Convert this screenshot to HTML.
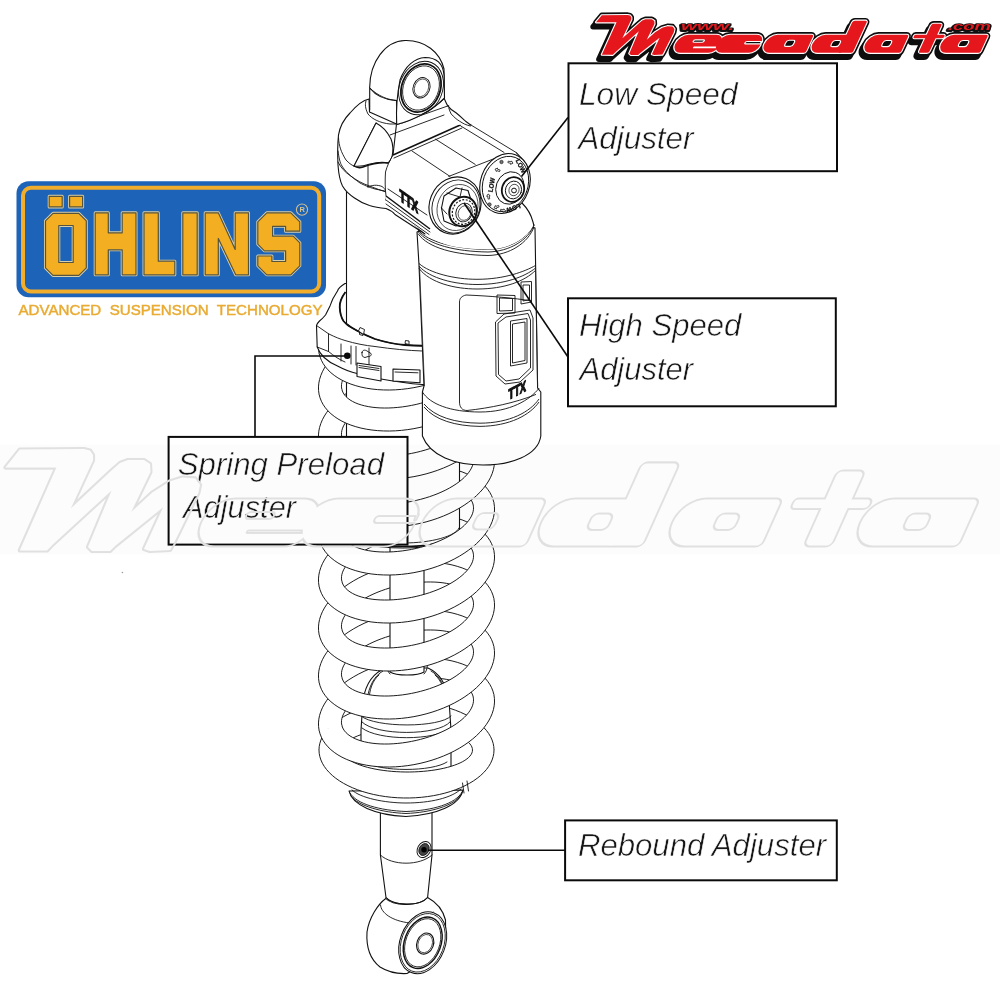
<!DOCTYPE html>
<html><head><meta charset="utf-8"><style>
html,body{margin:0;padding:0;background:#fff;width:1000px;height:1000px;overflow:hidden}
svg{display:block;will-change:transform}
</style></head><body>
<svg width="1000" height="1000" viewBox="0 0 1000 1000">
<rect width="1000" height="1000" fill="#fff"/>

<defs>
<clipPath id="cb0"><rect x="250" y="255.5" width="320" height="80" transform="rotate(-11.5 406.5 335.5)"/></clipPath>
<clipPath id="cf0"><rect x="250" y="335.2" width="320" height="90" transform="rotate(-11.5 406.5 335.5)"/></clipPath>
<clipPath id="cb1"><rect x="250" y="296.5" width="320" height="80" transform="rotate(-11.5 406.5 376.5)"/></clipPath>
<clipPath id="cf1"><rect x="250" y="376.2" width="320" height="90" transform="rotate(-11.5 406.5 376.5)"/></clipPath>
<clipPath id="cb2"><rect x="250" y="344.5" width="320" height="80" transform="rotate(-11.5 406.5 424.5)"/></clipPath>
<clipPath id="cf2"><rect x="250" y="424.2" width="320" height="90" transform="rotate(-11.5 406.5 424.5)"/></clipPath>
<clipPath id="cb3"><rect x="250" y="392.5" width="320" height="80" transform="rotate(-11.5 406.5 472.5)"/></clipPath>
<clipPath id="cf3"><rect x="250" y="472.2" width="320" height="90" transform="rotate(-11.5 406.5 472.5)"/></clipPath>
<clipPath id="cb4"><rect x="250" y="440.5" width="320" height="80" transform="rotate(-11.5 406.5 520.5)"/></clipPath>
<clipPath id="cf4"><rect x="250" y="520.2" width="320" height="90" transform="rotate(-11.5 406.5 520.5)"/></clipPath>
<clipPath id="cb5"><rect x="250" y="488.5" width="320" height="80" transform="rotate(-11.5 406.5 568.5)"/></clipPath>
<clipPath id="cf5"><rect x="250" y="568.2" width="320" height="90" transform="rotate(-11.5 406.5 568.5)"/></clipPath>
<clipPath id="cb6"><rect x="250" y="536.5" width="320" height="80" transform="rotate(-11.5 406.5 616.5)"/></clipPath>
<clipPath id="cf6"><rect x="250" y="616.2" width="320" height="90" transform="rotate(-11.5 406.5 616.5)"/></clipPath>
<clipPath id="cb7"><rect x="250" y="584.5" width="320" height="80" transform="rotate(-11.5 406.5 664.5)"/></clipPath>
<clipPath id="cf7"><rect x="250" y="664.2" width="320" height="90" transform="rotate(-11.5 406.5 664.5)"/></clipPath>
<clipPath id="cb8"><rect x="250" y="632.5" width="320" height="80" transform="rotate(-11.5 406.5 712.5)"/></clipPath>
<clipPath id="cf8"><rect x="250" y="712.2" width="320" height="90" transform="rotate(-11.5 406.5 712.5)"/></clipPath>
<clipPath id="cb9"><rect x="250" y="670.0" width="320" height="80" transform="rotate(0 406.5 750.0)"/></clipPath>
<clipPath id="cf9"><rect x="250" y="749.7" width="320" height="90" transform="rotate(0 406.5 750.0)"/></clipPath>
</defs>
<path fill="#fff" stroke="#111" stroke-width="1.1" stroke-linejoin="round" d="M380.4,805 L380.4,855 L386,897.5 C393,905.5 420,907.5 427.6,897.5 L432,855 L432,805 Z"/>
<path fill="none" stroke="#111" stroke-width="0.9" stroke-linejoin="round" stroke-linecap="round" d="M380.4,855 C392,866 420,866 432,855"/>
<path fill="#fff" stroke="#111" stroke-width="1.1" stroke-linejoin="round" d="M349,791 C352,805 375,815 406,816.5 C437,815 460,805 463,790 Z"/>
<path fill="none" stroke="#111" stroke-width="0.9" stroke-linejoin="round" stroke-linecap="round" d="M350,793 C356,804 380,810.5 406,811.5 C432,810.5 456,804 462,792"/>
<path fill="none" stroke="#111" stroke-width="0.9" stroke-linejoin="round" stroke-linecap="round" d="M351,796 C358,806 382,812.5 406,813.5 C430,812.5 454,806 461,795"/>
<path fill="none" stroke="#111" stroke-width="0.9" stroke-linejoin="round" stroke-linecap="round" d="M352,790 C360,798 385,803 406,803 C430,803 452,798 461,789"/>
<path clip-path="url(#cb9)" fill="#fff" fill-rule="evenodd" stroke="#111" stroke-width="0.95" d="M494.00,750.00 L493.79,753.35 L493.15,756.68 L492.09,759.98 L490.61,763.23 L488.72,766.42 L486.44,769.52 L483.76,772.53 L480.70,775.44 L477.29,778.21 L473.53,780.85 L469.44,783.34 L465.05,785.67 L460.37,787.82 L455.43,789.79 L450.25,791.57 L444.86,793.14 L439.28,794.50 L433.54,795.65 L427.67,796.57 L421.69,797.27 L415.65,797.74 L409.55,797.97 L403.45,797.97 L397.35,797.74 L391.31,797.27 L385.33,796.57 L379.46,795.65 L373.72,794.50 L368.14,793.14 L362.75,791.57 L357.57,789.79 L352.63,787.82 L347.95,785.67 L343.56,783.34 L339.47,780.85 L335.71,778.21 L332.30,775.44 L329.24,772.53 L326.56,769.52 L324.28,766.42 L322.39,763.23 L320.91,759.98 L319.85,756.68 L319.21,753.35 L319.00,750.00 L319.21,746.65 L319.85,743.32 L320.91,740.02 L322.39,736.77 L324.28,733.58 L326.56,730.48 L329.24,727.47 L332.30,724.56 L335.71,721.79 L339.47,719.15 L343.56,716.66 L347.95,714.33 L352.63,712.18 L357.57,710.21 L362.75,708.43 L368.14,706.86 L373.72,705.50 L379.46,704.35 L385.33,703.43 L391.31,702.73 L397.35,702.26 L403.45,702.03 L409.55,702.03 L415.65,702.26 L421.69,702.73 L427.67,703.43 L433.54,704.35 L439.28,705.50 L444.86,706.86 L450.25,708.43 L455.43,710.21 L460.37,712.18 L465.05,714.33 L469.44,716.66 L473.53,719.15 L477.29,721.79 L480.70,724.56 L483.76,727.47 L486.44,730.48 L488.72,733.58 L490.61,736.77 L492.09,740.02 L493.15,743.32 L493.79,746.65Z M472.50,750.00 L472.34,751.53 L471.87,753.06 L471.08,754.57 L469.98,756.06 L468.58,757.52 L466.88,758.95 L464.89,760.33 L462.62,761.66 L460.09,762.93 L457.29,764.14 L454.26,765.28 L450.99,766.35 L447.52,767.34 L443.85,768.24 L440.00,769.05 L435.99,769.77 L431.85,770.40 L427.59,770.92 L423.22,771.35 L418.79,771.67 L414.29,771.88 L409.77,771.99 L405.23,771.99 L400.71,771.88 L396.21,771.67 L391.78,771.35 L387.41,770.92 L383.15,770.40 L379.01,769.77 L375.00,769.05 L371.15,768.24 L367.48,767.34 L364.01,766.35 L360.74,765.28 L357.71,764.14 L354.91,762.93 L352.38,761.66 L350.11,760.33 L348.12,758.95 L346.42,757.52 L345.02,756.06 L343.92,754.57 L343.13,753.06 L342.66,751.53 L342.50,750.00 L342.66,748.47 L343.13,746.94 L343.92,745.43 L345.02,743.94 L346.42,742.48 L348.12,741.05 L350.11,739.67 L352.38,738.34 L354.91,737.07 L357.71,735.86 L360.74,734.72 L364.01,733.65 L367.48,732.66 L371.15,731.76 L375.00,730.95 L379.01,730.23 L383.15,729.60 L387.41,729.08 L391.78,728.65 L396.21,728.33 L400.71,728.12 L405.23,728.01 L409.77,728.01 L414.29,728.12 L418.79,728.33 L423.22,728.65 L427.59,729.08 L431.85,729.60 L435.99,730.23 L440.00,730.95 L443.85,731.76 L447.52,732.66 L450.99,733.65 L454.26,734.72 L457.29,735.86 L460.09,737.07 L462.62,738.34 L464.89,739.67 L466.88,741.05 L468.58,742.48 L469.98,743.94 L471.08,745.43 L471.87,746.94 L472.34,748.47Z"/>
<path clip-path="url(#cb8)" fill="#fff" fill-rule="evenodd" stroke="#111" stroke-width="0.95" d="M493.91,694.72 L494.43,698.36 L494.52,702.06 L494.18,705.82 L493.41,709.61 L492.22,713.42 L490.62,717.22 L488.60,721.00 L486.18,724.73 L483.38,728.41 L480.20,732.01 L476.66,735.51 L472.78,738.91 L468.58,742.17 L464.07,745.29 L459.29,748.25 L454.24,751.03 L448.97,753.63 L443.48,756.03 L437.82,758.21 L432.01,760.17 L426.07,761.90 L420.03,763.39 L413.93,764.63 L407.79,765.62 L401.65,766.35 L395.53,766.82 L389.46,767.02 L383.48,766.95 L377.61,766.62 L371.88,766.03 L366.32,765.18 L360.95,764.07 L355.80,762.70 L350.91,761.10 L346.28,759.25 L341.95,757.18 L337.93,754.90 L334.25,752.40 L330.91,749.71 L327.95,746.84 L325.37,743.80 L323.18,740.61 L321.40,737.28 L320.04,733.84 L319.09,730.28 L318.57,726.64 L318.48,722.94 L318.82,719.18 L319.59,715.39 L320.78,711.58 L322.38,707.78 L324.40,704.00 L326.82,700.27 L329.62,696.59 L332.80,692.99 L336.34,689.49 L340.22,686.09 L344.42,682.83 L348.93,679.71 L353.71,676.75 L358.76,673.97 L364.03,671.37 L369.52,668.97 L375.18,666.79 L380.99,664.83 L386.93,663.10 L392.97,661.61 L399.07,660.37 L405.21,659.38 L411.35,658.65 L417.47,658.18 L423.54,657.98 L429.52,658.05 L435.39,658.38 L441.12,658.97 L446.68,659.82 L452.05,660.93 L457.20,662.30 L462.09,663.90 L466.72,665.75 L471.05,667.82 L475.07,670.10 L478.75,672.60 L482.09,675.29 L485.05,678.16 L487.63,681.20 L489.82,684.39 L491.60,687.72 L492.96,691.16Z M473.23,697.03 L473.52,699.15 L473.48,701.33 L473.12,703.56 L472.44,705.82 L471.44,708.11 L470.14,710.41 L468.52,712.72 L466.61,715.01 L464.42,717.29 L461.94,719.54 L459.20,721.74 L456.21,723.89 L452.98,725.98 L449.53,728.00 L445.88,729.94 L442.03,731.78 L438.02,733.52 L433.86,735.15 L429.58,736.66 L425.18,738.05 L420.70,739.31 L416.15,740.43 L411.56,741.40 L406.96,742.23 L402.35,742.90 L397.77,743.42 L393.24,743.78 L388.78,743.99 L384.40,744.03 L380.14,743.91 L376.02,743.63 L372.05,743.19 L368.24,742.59 L364.64,741.84 L361.24,740.94 L358.06,739.90 L355.13,738.71 L352.45,737.39 L350.04,735.94 L347.91,734.37 L346.07,732.68 L344.53,730.89 L343.29,729.00 L342.37,727.03 L341.77,724.97 L341.48,722.85 L341.52,720.67 L341.88,718.44 L342.56,716.18 L343.56,713.89 L344.86,711.59 L346.48,709.28 L348.39,706.99 L350.58,704.71 L353.06,702.46 L355.80,700.26 L358.79,698.11 L362.02,696.02 L365.47,694.00 L369.12,692.06 L372.97,690.22 L376.98,688.48 L381.14,686.85 L385.42,685.34 L389.82,683.95 L394.30,682.69 L398.85,681.57 L403.44,680.60 L408.04,679.77 L412.65,679.10 L417.23,678.58 L421.76,678.22 L426.22,678.01 L430.60,677.97 L434.86,678.09 L438.98,678.37 L442.95,678.81 L446.76,679.41 L450.36,680.16 L453.76,681.06 L456.94,682.10 L459.87,683.29 L462.55,684.61 L464.96,686.06 L467.09,687.63 L468.93,689.32 L470.47,691.11 L471.71,693.00 L472.63,694.97Z"/>
<path clip-path="url(#cb7)" fill="#fff" fill-rule="evenodd" stroke="#111" stroke-width="0.95" d="M493.91,646.72 L494.43,650.36 L494.52,654.06 L494.18,657.82 L493.41,661.61 L492.22,665.42 L490.62,669.22 L488.60,673.00 L486.18,676.73 L483.38,680.41 L480.20,684.01 L476.66,687.51 L472.78,690.91 L468.58,694.17 L464.07,697.29 L459.29,700.25 L454.24,703.03 L448.97,705.63 L443.48,708.03 L437.82,710.21 L432.01,712.17 L426.07,713.90 L420.03,715.39 L413.93,716.63 L407.79,717.62 L401.65,718.35 L395.53,718.82 L389.46,719.02 L383.48,718.95 L377.61,718.62 L371.88,718.03 L366.32,717.18 L360.95,716.07 L355.80,714.70 L350.91,713.10 L346.28,711.25 L341.95,709.18 L337.93,706.90 L334.25,704.40 L330.91,701.71 L327.95,698.84 L325.37,695.80 L323.18,692.61 L321.40,689.28 L320.04,685.84 L319.09,682.28 L318.57,678.64 L318.48,674.94 L318.82,671.18 L319.59,667.39 L320.78,663.58 L322.38,659.78 L324.40,656.00 L326.82,652.27 L329.62,648.59 L332.80,644.99 L336.34,641.49 L340.22,638.09 L344.42,634.83 L348.93,631.71 L353.71,628.75 L358.76,625.97 L364.03,623.37 L369.52,620.97 L375.18,618.79 L380.99,616.83 L386.93,615.10 L392.97,613.61 L399.07,612.37 L405.21,611.38 L411.35,610.65 L417.47,610.18 L423.54,609.98 L429.52,610.05 L435.39,610.38 L441.12,610.97 L446.68,611.82 L452.05,612.93 L457.20,614.30 L462.09,615.90 L466.72,617.75 L471.05,619.82 L475.07,622.10 L478.75,624.60 L482.09,627.29 L485.05,630.16 L487.63,633.20 L489.82,636.39 L491.60,639.72 L492.96,643.16Z M473.23,649.03 L473.52,651.15 L473.48,653.33 L473.12,655.56 L472.44,657.82 L471.44,660.11 L470.14,662.41 L468.52,664.72 L466.61,667.01 L464.42,669.29 L461.94,671.54 L459.20,673.74 L456.21,675.89 L452.98,677.98 L449.53,680.00 L445.88,681.94 L442.03,683.78 L438.02,685.52 L433.86,687.15 L429.58,688.66 L425.18,690.05 L420.70,691.31 L416.15,692.43 L411.56,693.40 L406.96,694.23 L402.35,694.90 L397.77,695.42 L393.24,695.78 L388.78,695.99 L384.40,696.03 L380.14,695.91 L376.02,695.63 L372.05,695.19 L368.24,694.59 L364.64,693.84 L361.24,692.94 L358.06,691.90 L355.13,690.71 L352.45,689.39 L350.04,687.94 L347.91,686.37 L346.07,684.68 L344.53,682.89 L343.29,681.00 L342.37,679.03 L341.77,676.97 L341.48,674.85 L341.52,672.67 L341.88,670.44 L342.56,668.18 L343.56,665.89 L344.86,663.59 L346.48,661.28 L348.39,658.99 L350.58,656.71 L353.06,654.46 L355.80,652.26 L358.79,650.11 L362.02,648.02 L365.47,646.00 L369.12,644.06 L372.97,642.22 L376.98,640.48 L381.14,638.85 L385.42,637.34 L389.82,635.95 L394.30,634.69 L398.85,633.57 L403.44,632.60 L408.04,631.77 L412.65,631.10 L417.23,630.58 L421.76,630.22 L426.22,630.01 L430.60,629.97 L434.86,630.09 L438.98,630.37 L442.95,630.81 L446.76,631.41 L450.36,632.16 L453.76,633.06 L456.94,634.10 L459.87,635.29 L462.55,636.61 L464.96,638.06 L467.09,639.63 L468.93,641.32 L470.47,643.11 L471.71,645.00 L472.63,646.97Z"/>
<path clip-path="url(#cb6)" fill="#fff" fill-rule="evenodd" stroke="#111" stroke-width="0.95" d="M493.91,598.72 L494.43,602.36 L494.52,606.06 L494.18,609.82 L493.41,613.61 L492.22,617.42 L490.62,621.22 L488.60,625.00 L486.18,628.73 L483.38,632.41 L480.20,636.01 L476.66,639.51 L472.78,642.91 L468.58,646.17 L464.07,649.29 L459.29,652.25 L454.24,655.03 L448.97,657.63 L443.48,660.03 L437.82,662.21 L432.01,664.17 L426.07,665.90 L420.03,667.39 L413.93,668.63 L407.79,669.62 L401.65,670.35 L395.53,670.82 L389.46,671.02 L383.48,670.95 L377.61,670.62 L371.88,670.03 L366.32,669.18 L360.95,668.07 L355.80,666.70 L350.91,665.10 L346.28,663.25 L341.95,661.18 L337.93,658.90 L334.25,656.40 L330.91,653.71 L327.95,650.84 L325.37,647.80 L323.18,644.61 L321.40,641.28 L320.04,637.84 L319.09,634.28 L318.57,630.64 L318.48,626.94 L318.82,623.18 L319.59,619.39 L320.78,615.58 L322.38,611.78 L324.40,608.00 L326.82,604.27 L329.62,600.59 L332.80,596.99 L336.34,593.49 L340.22,590.09 L344.42,586.83 L348.93,583.71 L353.71,580.75 L358.76,577.97 L364.03,575.37 L369.52,572.97 L375.18,570.79 L380.99,568.83 L386.93,567.10 L392.97,565.61 L399.07,564.37 L405.21,563.38 L411.35,562.65 L417.47,562.18 L423.54,561.98 L429.52,562.05 L435.39,562.38 L441.12,562.97 L446.68,563.82 L452.05,564.93 L457.20,566.30 L462.09,567.90 L466.72,569.75 L471.05,571.82 L475.07,574.10 L478.75,576.60 L482.09,579.29 L485.05,582.16 L487.63,585.20 L489.82,588.39 L491.60,591.72 L492.96,595.16Z M473.23,601.03 L473.52,603.15 L473.48,605.33 L473.12,607.56 L472.44,609.82 L471.44,612.11 L470.14,614.41 L468.52,616.72 L466.61,619.01 L464.42,621.29 L461.94,623.54 L459.20,625.74 L456.21,627.89 L452.98,629.98 L449.53,632.00 L445.88,633.94 L442.03,635.78 L438.02,637.52 L433.86,639.15 L429.58,640.66 L425.18,642.05 L420.70,643.31 L416.15,644.43 L411.56,645.40 L406.96,646.23 L402.35,646.90 L397.77,647.42 L393.24,647.78 L388.78,647.99 L384.40,648.03 L380.14,647.91 L376.02,647.63 L372.05,647.19 L368.24,646.59 L364.64,645.84 L361.24,644.94 L358.06,643.90 L355.13,642.71 L352.45,641.39 L350.04,639.94 L347.91,638.37 L346.07,636.68 L344.53,634.89 L343.29,633.00 L342.37,631.03 L341.77,628.97 L341.48,626.85 L341.52,624.67 L341.88,622.44 L342.56,620.18 L343.56,617.89 L344.86,615.59 L346.48,613.28 L348.39,610.99 L350.58,608.71 L353.06,606.46 L355.80,604.26 L358.79,602.11 L362.02,600.02 L365.47,598.00 L369.12,596.06 L372.97,594.22 L376.98,592.48 L381.14,590.85 L385.42,589.34 L389.82,587.95 L394.30,586.69 L398.85,585.57 L403.44,584.60 L408.04,583.77 L412.65,583.10 L417.23,582.58 L421.76,582.22 L426.22,582.01 L430.60,581.97 L434.86,582.09 L438.98,582.37 L442.95,582.81 L446.76,583.41 L450.36,584.16 L453.76,585.06 L456.94,586.10 L459.87,587.29 L462.55,588.61 L464.96,590.06 L467.09,591.63 L468.93,593.32 L470.47,595.11 L471.71,597.00 L472.63,598.97Z"/>
<path clip-path="url(#cb5)" fill="#fff" fill-rule="evenodd" stroke="#111" stroke-width="0.95" d="M493.91,550.72 L494.43,554.36 L494.52,558.06 L494.18,561.82 L493.41,565.61 L492.22,569.42 L490.62,573.22 L488.60,577.00 L486.18,580.73 L483.38,584.41 L480.20,588.01 L476.66,591.51 L472.78,594.91 L468.58,598.17 L464.07,601.29 L459.29,604.25 L454.24,607.03 L448.97,609.63 L443.48,612.03 L437.82,614.21 L432.01,616.17 L426.07,617.90 L420.03,619.39 L413.93,620.63 L407.79,621.62 L401.65,622.35 L395.53,622.82 L389.46,623.02 L383.48,622.95 L377.61,622.62 L371.88,622.03 L366.32,621.18 L360.95,620.07 L355.80,618.70 L350.91,617.10 L346.28,615.25 L341.95,613.18 L337.93,610.90 L334.25,608.40 L330.91,605.71 L327.95,602.84 L325.37,599.80 L323.18,596.61 L321.40,593.28 L320.04,589.84 L319.09,586.28 L318.57,582.64 L318.48,578.94 L318.82,575.18 L319.59,571.39 L320.78,567.58 L322.38,563.78 L324.40,560.00 L326.82,556.27 L329.62,552.59 L332.80,548.99 L336.34,545.49 L340.22,542.09 L344.42,538.83 L348.93,535.71 L353.71,532.75 L358.76,529.97 L364.03,527.37 L369.52,524.97 L375.18,522.79 L380.99,520.83 L386.93,519.10 L392.97,517.61 L399.07,516.37 L405.21,515.38 L411.35,514.65 L417.47,514.18 L423.54,513.98 L429.52,514.05 L435.39,514.38 L441.12,514.97 L446.68,515.82 L452.05,516.93 L457.20,518.30 L462.09,519.90 L466.72,521.75 L471.05,523.82 L475.07,526.10 L478.75,528.60 L482.09,531.29 L485.05,534.16 L487.63,537.20 L489.82,540.39 L491.60,543.72 L492.96,547.16Z M473.23,553.03 L473.52,555.15 L473.48,557.33 L473.12,559.56 L472.44,561.82 L471.44,564.11 L470.14,566.41 L468.52,568.72 L466.61,571.01 L464.42,573.29 L461.94,575.54 L459.20,577.74 L456.21,579.89 L452.98,581.98 L449.53,584.00 L445.88,585.94 L442.03,587.78 L438.02,589.52 L433.86,591.15 L429.58,592.66 L425.18,594.05 L420.70,595.31 L416.15,596.43 L411.56,597.40 L406.96,598.23 L402.35,598.90 L397.77,599.42 L393.24,599.78 L388.78,599.99 L384.40,600.03 L380.14,599.91 L376.02,599.63 L372.05,599.19 L368.24,598.59 L364.64,597.84 L361.24,596.94 L358.06,595.90 L355.13,594.71 L352.45,593.39 L350.04,591.94 L347.91,590.37 L346.07,588.68 L344.53,586.89 L343.29,585.00 L342.37,583.03 L341.77,580.97 L341.48,578.85 L341.52,576.67 L341.88,574.44 L342.56,572.18 L343.56,569.89 L344.86,567.59 L346.48,565.28 L348.39,562.99 L350.58,560.71 L353.06,558.46 L355.80,556.26 L358.79,554.11 L362.02,552.02 L365.47,550.00 L369.12,548.06 L372.97,546.22 L376.98,544.48 L381.14,542.85 L385.42,541.34 L389.82,539.95 L394.30,538.69 L398.85,537.57 L403.44,536.60 L408.04,535.77 L412.65,535.10 L417.23,534.58 L421.76,534.22 L426.22,534.01 L430.60,533.97 L434.86,534.09 L438.98,534.37 L442.95,534.81 L446.76,535.41 L450.36,536.16 L453.76,537.06 L456.94,538.10 L459.87,539.29 L462.55,540.61 L464.96,542.06 L467.09,543.63 L468.93,545.32 L470.47,547.11 L471.71,549.00 L472.63,550.97Z"/>
<path clip-path="url(#cb4)" fill="#fff" fill-rule="evenodd" stroke="#111" stroke-width="0.95" d="M493.91,502.72 L494.43,506.36 L494.52,510.06 L494.18,513.82 L493.41,517.61 L492.22,521.42 L490.62,525.22 L488.60,529.00 L486.18,532.73 L483.38,536.41 L480.20,540.01 L476.66,543.51 L472.78,546.91 L468.58,550.17 L464.07,553.29 L459.29,556.25 L454.24,559.03 L448.97,561.63 L443.48,564.03 L437.82,566.21 L432.01,568.17 L426.07,569.90 L420.03,571.39 L413.93,572.63 L407.79,573.62 L401.65,574.35 L395.53,574.82 L389.46,575.02 L383.48,574.95 L377.61,574.62 L371.88,574.03 L366.32,573.18 L360.95,572.07 L355.80,570.70 L350.91,569.10 L346.28,567.25 L341.95,565.18 L337.93,562.90 L334.25,560.40 L330.91,557.71 L327.95,554.84 L325.37,551.80 L323.18,548.61 L321.40,545.28 L320.04,541.84 L319.09,538.28 L318.57,534.64 L318.48,530.94 L318.82,527.18 L319.59,523.39 L320.78,519.58 L322.38,515.78 L324.40,512.00 L326.82,508.27 L329.62,504.59 L332.80,500.99 L336.34,497.49 L340.22,494.09 L344.42,490.83 L348.93,487.71 L353.71,484.75 L358.76,481.97 L364.03,479.37 L369.52,476.97 L375.18,474.79 L380.99,472.83 L386.93,471.10 L392.97,469.61 L399.07,468.37 L405.21,467.38 L411.35,466.65 L417.47,466.18 L423.54,465.98 L429.52,466.05 L435.39,466.38 L441.12,466.97 L446.68,467.82 L452.05,468.93 L457.20,470.30 L462.09,471.90 L466.72,473.75 L471.05,475.82 L475.07,478.10 L478.75,480.60 L482.09,483.29 L485.05,486.16 L487.63,489.20 L489.82,492.39 L491.60,495.72 L492.96,499.16Z M473.23,505.03 L473.52,507.15 L473.48,509.33 L473.12,511.56 L472.44,513.82 L471.44,516.11 L470.14,518.41 L468.52,520.72 L466.61,523.01 L464.42,525.29 L461.94,527.54 L459.20,529.74 L456.21,531.89 L452.98,533.98 L449.53,536.00 L445.88,537.94 L442.03,539.78 L438.02,541.52 L433.86,543.15 L429.58,544.66 L425.18,546.05 L420.70,547.31 L416.15,548.43 L411.56,549.40 L406.96,550.23 L402.35,550.90 L397.77,551.42 L393.24,551.78 L388.78,551.99 L384.40,552.03 L380.14,551.91 L376.02,551.63 L372.05,551.19 L368.24,550.59 L364.64,549.84 L361.24,548.94 L358.06,547.90 L355.13,546.71 L352.45,545.39 L350.04,543.94 L347.91,542.37 L346.07,540.68 L344.53,538.89 L343.29,537.00 L342.37,535.03 L341.77,532.97 L341.48,530.85 L341.52,528.67 L341.88,526.44 L342.56,524.18 L343.56,521.89 L344.86,519.59 L346.48,517.28 L348.39,514.99 L350.58,512.71 L353.06,510.46 L355.80,508.26 L358.79,506.11 L362.02,504.02 L365.47,502.00 L369.12,500.06 L372.97,498.22 L376.98,496.48 L381.14,494.85 L385.42,493.34 L389.82,491.95 L394.30,490.69 L398.85,489.57 L403.44,488.60 L408.04,487.77 L412.65,487.10 L417.23,486.58 L421.76,486.22 L426.22,486.01 L430.60,485.97 L434.86,486.09 L438.98,486.37 L442.95,486.81 L446.76,487.41 L450.36,488.16 L453.76,489.06 L456.94,490.10 L459.87,491.29 L462.55,492.61 L464.96,494.06 L467.09,495.63 L468.93,497.32 L470.47,499.11 L471.71,501.00 L472.63,502.97Z"/>
<path clip-path="url(#cb3)" fill="#fff" fill-rule="evenodd" stroke="#111" stroke-width="0.95" d="M493.91,454.72 L494.43,458.36 L494.52,462.06 L494.18,465.82 L493.41,469.61 L492.22,473.42 L490.62,477.22 L488.60,481.00 L486.18,484.73 L483.38,488.41 L480.20,492.01 L476.66,495.51 L472.78,498.91 L468.58,502.17 L464.07,505.29 L459.29,508.25 L454.24,511.03 L448.97,513.63 L443.48,516.03 L437.82,518.21 L432.01,520.17 L426.07,521.90 L420.03,523.39 L413.93,524.63 L407.79,525.62 L401.65,526.35 L395.53,526.82 L389.46,527.02 L383.48,526.95 L377.61,526.62 L371.88,526.03 L366.32,525.18 L360.95,524.07 L355.80,522.70 L350.91,521.10 L346.28,519.25 L341.95,517.18 L337.93,514.90 L334.25,512.40 L330.91,509.71 L327.95,506.84 L325.37,503.80 L323.18,500.61 L321.40,497.28 L320.04,493.84 L319.09,490.28 L318.57,486.64 L318.48,482.94 L318.82,479.18 L319.59,475.39 L320.78,471.58 L322.38,467.78 L324.40,464.00 L326.82,460.27 L329.62,456.59 L332.80,452.99 L336.34,449.49 L340.22,446.09 L344.42,442.83 L348.93,439.71 L353.71,436.75 L358.76,433.97 L364.03,431.37 L369.52,428.97 L375.18,426.79 L380.99,424.83 L386.93,423.10 L392.97,421.61 L399.07,420.37 L405.21,419.38 L411.35,418.65 L417.47,418.18 L423.54,417.98 L429.52,418.05 L435.39,418.38 L441.12,418.97 L446.68,419.82 L452.05,420.93 L457.20,422.30 L462.09,423.90 L466.72,425.75 L471.05,427.82 L475.07,430.10 L478.75,432.60 L482.09,435.29 L485.05,438.16 L487.63,441.20 L489.82,444.39 L491.60,447.72 L492.96,451.16Z M473.23,457.03 L473.52,459.15 L473.48,461.33 L473.12,463.56 L472.44,465.82 L471.44,468.11 L470.14,470.41 L468.52,472.72 L466.61,475.01 L464.42,477.29 L461.94,479.54 L459.20,481.74 L456.21,483.89 L452.98,485.98 L449.53,488.00 L445.88,489.94 L442.03,491.78 L438.02,493.52 L433.86,495.15 L429.58,496.66 L425.18,498.05 L420.70,499.31 L416.15,500.43 L411.56,501.40 L406.96,502.23 L402.35,502.90 L397.77,503.42 L393.24,503.78 L388.78,503.99 L384.40,504.03 L380.14,503.91 L376.02,503.63 L372.05,503.19 L368.24,502.59 L364.64,501.84 L361.24,500.94 L358.06,499.90 L355.13,498.71 L352.45,497.39 L350.04,495.94 L347.91,494.37 L346.07,492.68 L344.53,490.89 L343.29,489.00 L342.37,487.03 L341.77,484.97 L341.48,482.85 L341.52,480.67 L341.88,478.44 L342.56,476.18 L343.56,473.89 L344.86,471.59 L346.48,469.28 L348.39,466.99 L350.58,464.71 L353.06,462.46 L355.80,460.26 L358.79,458.11 L362.02,456.02 L365.47,454.00 L369.12,452.06 L372.97,450.22 L376.98,448.48 L381.14,446.85 L385.42,445.34 L389.82,443.95 L394.30,442.69 L398.85,441.57 L403.44,440.60 L408.04,439.77 L412.65,439.10 L417.23,438.58 L421.76,438.22 L426.22,438.01 L430.60,437.97 L434.86,438.09 L438.98,438.37 L442.95,438.81 L446.76,439.41 L450.36,440.16 L453.76,441.06 L456.94,442.10 L459.87,443.29 L462.55,444.61 L464.96,446.06 L467.09,447.63 L468.93,449.32 L470.47,451.11 L471.71,453.00 L472.63,454.97Z"/>
<path clip-path="url(#cb2)" fill="#fff" fill-rule="evenodd" stroke="#111" stroke-width="0.95" d="M493.91,406.72 L494.43,410.36 L494.52,414.06 L494.18,417.82 L493.41,421.61 L492.22,425.42 L490.62,429.22 L488.60,433.00 L486.18,436.73 L483.38,440.41 L480.20,444.01 L476.66,447.51 L472.78,450.91 L468.58,454.17 L464.07,457.29 L459.29,460.25 L454.24,463.03 L448.97,465.63 L443.48,468.03 L437.82,470.21 L432.01,472.17 L426.07,473.90 L420.03,475.39 L413.93,476.63 L407.79,477.62 L401.65,478.35 L395.53,478.82 L389.46,479.02 L383.48,478.95 L377.61,478.62 L371.88,478.03 L366.32,477.18 L360.95,476.07 L355.80,474.70 L350.91,473.10 L346.28,471.25 L341.95,469.18 L337.93,466.90 L334.25,464.40 L330.91,461.71 L327.95,458.84 L325.37,455.80 L323.18,452.61 L321.40,449.28 L320.04,445.84 L319.09,442.28 L318.57,438.64 L318.48,434.94 L318.82,431.18 L319.59,427.39 L320.78,423.58 L322.38,419.78 L324.40,416.00 L326.82,412.27 L329.62,408.59 L332.80,404.99 L336.34,401.49 L340.22,398.09 L344.42,394.83 L348.93,391.71 L353.71,388.75 L358.76,385.97 L364.03,383.37 L369.52,380.97 L375.18,378.79 L380.99,376.83 L386.93,375.10 L392.97,373.61 L399.07,372.37 L405.21,371.38 L411.35,370.65 L417.47,370.18 L423.54,369.98 L429.52,370.05 L435.39,370.38 L441.12,370.97 L446.68,371.82 L452.05,372.93 L457.20,374.30 L462.09,375.90 L466.72,377.75 L471.05,379.82 L475.07,382.10 L478.75,384.60 L482.09,387.29 L485.05,390.16 L487.63,393.20 L489.82,396.39 L491.60,399.72 L492.96,403.16Z M473.23,409.03 L473.52,411.15 L473.48,413.33 L473.12,415.56 L472.44,417.82 L471.44,420.11 L470.14,422.41 L468.52,424.72 L466.61,427.01 L464.42,429.29 L461.94,431.54 L459.20,433.74 L456.21,435.89 L452.98,437.98 L449.53,440.00 L445.88,441.94 L442.03,443.78 L438.02,445.52 L433.86,447.15 L429.58,448.66 L425.18,450.05 L420.70,451.31 L416.15,452.43 L411.56,453.40 L406.96,454.23 L402.35,454.90 L397.77,455.42 L393.24,455.78 L388.78,455.99 L384.40,456.03 L380.14,455.91 L376.02,455.63 L372.05,455.19 L368.24,454.59 L364.64,453.84 L361.24,452.94 L358.06,451.90 L355.13,450.71 L352.45,449.39 L350.04,447.94 L347.91,446.37 L346.07,444.68 L344.53,442.89 L343.29,441.00 L342.37,439.03 L341.77,436.97 L341.48,434.85 L341.52,432.67 L341.88,430.44 L342.56,428.18 L343.56,425.89 L344.86,423.59 L346.48,421.28 L348.39,418.99 L350.58,416.71 L353.06,414.46 L355.80,412.26 L358.79,410.11 L362.02,408.02 L365.47,406.00 L369.12,404.06 L372.97,402.22 L376.98,400.48 L381.14,398.85 L385.42,397.34 L389.82,395.95 L394.30,394.69 L398.85,393.57 L403.44,392.60 L408.04,391.77 L412.65,391.10 L417.23,390.58 L421.76,390.22 L426.22,390.01 L430.60,389.97 L434.86,390.09 L438.98,390.37 L442.95,390.81 L446.76,391.41 L450.36,392.16 L453.76,393.06 L456.94,394.10 L459.87,395.29 L462.55,396.61 L464.96,398.06 L467.09,399.63 L468.93,401.32 L470.47,403.11 L471.71,405.00 L472.63,406.97Z"/>
<path clip-path="url(#cb1)" fill="#fff" fill-rule="evenodd" stroke="#111" stroke-width="0.95" d="M493.91,358.72 L494.43,362.36 L494.52,366.06 L494.18,369.82 L493.41,373.61 L492.22,377.42 L490.62,381.22 L488.60,385.00 L486.18,388.73 L483.38,392.41 L480.20,396.01 L476.66,399.51 L472.78,402.91 L468.58,406.17 L464.07,409.29 L459.29,412.25 L454.24,415.03 L448.97,417.63 L443.48,420.03 L437.82,422.21 L432.01,424.17 L426.07,425.90 L420.03,427.39 L413.93,428.63 L407.79,429.62 L401.65,430.35 L395.53,430.82 L389.46,431.02 L383.48,430.95 L377.61,430.62 L371.88,430.03 L366.32,429.18 L360.95,428.07 L355.80,426.70 L350.91,425.10 L346.28,423.25 L341.95,421.18 L337.93,418.90 L334.25,416.40 L330.91,413.71 L327.95,410.84 L325.37,407.80 L323.18,404.61 L321.40,401.28 L320.04,397.84 L319.09,394.28 L318.57,390.64 L318.48,386.94 L318.82,383.18 L319.59,379.39 L320.78,375.58 L322.38,371.78 L324.40,368.00 L326.82,364.27 L329.62,360.59 L332.80,356.99 L336.34,353.49 L340.22,350.09 L344.42,346.83 L348.93,343.71 L353.71,340.75 L358.76,337.97 L364.03,335.37 L369.52,332.97 L375.18,330.79 L380.99,328.83 L386.93,327.10 L392.97,325.61 L399.07,324.37 L405.21,323.38 L411.35,322.65 L417.47,322.18 L423.54,321.98 L429.52,322.05 L435.39,322.38 L441.12,322.97 L446.68,323.82 L452.05,324.93 L457.20,326.30 L462.09,327.90 L466.72,329.75 L471.05,331.82 L475.07,334.10 L478.75,336.60 L482.09,339.29 L485.05,342.16 L487.63,345.20 L489.82,348.39 L491.60,351.72 L492.96,355.16Z M473.23,361.03 L473.52,363.15 L473.48,365.33 L473.12,367.56 L472.44,369.82 L471.44,372.11 L470.14,374.41 L468.52,376.72 L466.61,379.01 L464.42,381.29 L461.94,383.54 L459.20,385.74 L456.21,387.89 L452.98,389.98 L449.53,392.00 L445.88,393.94 L442.03,395.78 L438.02,397.52 L433.86,399.15 L429.58,400.66 L425.18,402.05 L420.70,403.31 L416.15,404.43 L411.56,405.40 L406.96,406.23 L402.35,406.90 L397.77,407.42 L393.24,407.78 L388.78,407.99 L384.40,408.03 L380.14,407.91 L376.02,407.63 L372.05,407.19 L368.24,406.59 L364.64,405.84 L361.24,404.94 L358.06,403.90 L355.13,402.71 L352.45,401.39 L350.04,399.94 L347.91,398.37 L346.07,396.68 L344.53,394.89 L343.29,393.00 L342.37,391.03 L341.77,388.97 L341.48,386.85 L341.52,384.67 L341.88,382.44 L342.56,380.18 L343.56,377.89 L344.86,375.59 L346.48,373.28 L348.39,370.99 L350.58,368.71 L353.06,366.46 L355.80,364.26 L358.79,362.11 L362.02,360.02 L365.47,358.00 L369.12,356.06 L372.97,354.22 L376.98,352.48 L381.14,350.85 L385.42,349.34 L389.82,347.95 L394.30,346.69 L398.85,345.57 L403.44,344.60 L408.04,343.77 L412.65,343.10 L417.23,342.58 L421.76,342.22 L426.22,342.01 L430.60,341.97 L434.86,342.09 L438.98,342.37 L442.95,342.81 L446.76,343.41 L450.36,344.16 L453.76,345.06 L456.94,346.10 L459.87,347.29 L462.55,348.61 L464.96,350.06 L467.09,351.63 L468.93,353.32 L470.47,355.11 L471.71,357.00 L472.63,358.97Z"/>
<path clip-path="url(#cb0)" fill="#fff" fill-rule="evenodd" stroke="#111" stroke-width="0.95" d="M493.91,317.72 L494.43,321.36 L494.52,325.06 L494.18,328.82 L493.41,332.61 L492.22,336.42 L490.62,340.22 L488.60,344.00 L486.18,347.73 L483.38,351.41 L480.20,355.01 L476.66,358.51 L472.78,361.91 L468.58,365.17 L464.07,368.29 L459.29,371.25 L454.24,374.03 L448.97,376.63 L443.48,379.03 L437.82,381.21 L432.01,383.17 L426.07,384.90 L420.03,386.39 L413.93,387.63 L407.79,388.62 L401.65,389.35 L395.53,389.82 L389.46,390.02 L383.48,389.95 L377.61,389.62 L371.88,389.03 L366.32,388.18 L360.95,387.07 L355.80,385.70 L350.91,384.10 L346.28,382.25 L341.95,380.18 L337.93,377.90 L334.25,375.40 L330.91,372.71 L327.95,369.84 L325.37,366.80 L323.18,363.61 L321.40,360.28 L320.04,356.84 L319.09,353.28 L318.57,349.64 L318.48,345.94 L318.82,342.18 L319.59,338.39 L320.78,334.58 L322.38,330.78 L324.40,327.00 L326.82,323.27 L329.62,319.59 L332.80,315.99 L336.34,312.49 L340.22,309.09 L344.42,305.83 L348.93,302.71 L353.71,299.75 L358.76,296.97 L364.03,294.37 L369.52,291.97 L375.18,289.79 L380.99,287.83 L386.93,286.10 L392.97,284.61 L399.07,283.37 L405.21,282.38 L411.35,281.65 L417.47,281.18 L423.54,280.98 L429.52,281.05 L435.39,281.38 L441.12,281.97 L446.68,282.82 L452.05,283.93 L457.20,285.30 L462.09,286.90 L466.72,288.75 L471.05,290.82 L475.07,293.10 L478.75,295.60 L482.09,298.29 L485.05,301.16 L487.63,304.20 L489.82,307.39 L491.60,310.72 L492.96,314.16Z M473.23,320.03 L473.52,322.15 L473.48,324.33 L473.12,326.56 L472.44,328.82 L471.44,331.11 L470.14,333.41 L468.52,335.72 L466.61,338.01 L464.42,340.29 L461.94,342.54 L459.20,344.74 L456.21,346.89 L452.98,348.98 L449.53,351.00 L445.88,352.94 L442.03,354.78 L438.02,356.52 L433.86,358.15 L429.58,359.66 L425.18,361.05 L420.70,362.31 L416.15,363.43 L411.56,364.40 L406.96,365.23 L402.35,365.90 L397.77,366.42 L393.24,366.78 L388.78,366.99 L384.40,367.03 L380.14,366.91 L376.02,366.63 L372.05,366.19 L368.24,365.59 L364.64,364.84 L361.24,363.94 L358.06,362.90 L355.13,361.71 L352.45,360.39 L350.04,358.94 L347.91,357.37 L346.07,355.68 L344.53,353.89 L343.29,352.00 L342.37,350.03 L341.77,347.97 L341.48,345.85 L341.52,343.67 L341.88,341.44 L342.56,339.18 L343.56,336.89 L344.86,334.59 L346.48,332.28 L348.39,329.99 L350.58,327.71 L353.06,325.46 L355.80,323.26 L358.79,321.11 L362.02,319.02 L365.47,317.00 L369.12,315.06 L372.97,313.22 L376.98,311.48 L381.14,309.85 L385.42,308.34 L389.82,306.95 L394.30,305.69 L398.85,304.57 L403.44,303.60 L408.04,302.77 L412.65,302.10 L417.23,301.58 L421.76,301.22 L426.22,301.01 L430.60,300.97 L434.86,301.09 L438.98,301.37 L442.95,301.81 L446.76,302.41 L450.36,303.16 L453.76,304.06 L456.94,305.10 L459.87,306.29 L462.55,307.61 L464.96,309.06 L467.09,310.63 L468.93,312.32 L470.47,314.11 L471.71,316.00 L472.63,317.97Z"/>
<path fill="#fff" stroke="#111" stroke-width="1.1" stroke-linejoin="round" d="M386,668 C375,672 366,682 363,700 L361,730 L361,790 L451,790 L451,730 L449,700 C446,682 437,672 428,668 Z"/>
<path fill="none" stroke="#111" stroke-width="0.9" stroke-linejoin="round" stroke-linecap="round" d="M383,671 C374,676 369,686 367,700 M379,675 C372,681 369.5,690 369,700"/>
<path fill="none" stroke="#111" stroke-width="0.9" stroke-linejoin="round" stroke-linecap="round" d="M431,671 C440,676 445,686 447,700 M435,675 C442,681 444.5,690 445,700"/>
<path fill="none" stroke="#111" stroke-width="0.9" stroke-linejoin="round" stroke-linecap="round" d="M361,716 C375,728 440,728 451,716"/>
<path fill="none" stroke="#111" stroke-width="0.9" stroke-linejoin="round" stroke-linecap="round" d="M362,722 C376,736 438,736 450,722"/>
<path fill="none" stroke="#111" stroke-width="0.9" stroke-linejoin="round" stroke-linecap="round" d="M362,728 C378,741 436,741 450,728"/>
<path fill="none" stroke="#111" stroke-width="0.9" stroke-linejoin="round" stroke-linecap="round" d="M365,762 C380,772 432,772 447,762"/>
<path fill="none" stroke="#111" stroke-width="0.9" stroke-linejoin="round" stroke-linecap="round" d="M363,768 C380,779 432,779 449,768"/>
<path fill="#fff" stroke="#111" stroke-width="1.1" stroke-linejoin="round" d="M390,380 L390,672 C396,676 418,676 424,672 L424,380Z"/>
<path fill="none" stroke="#111" stroke-width="0.9" stroke-linejoin="round" stroke-linecap="round" d="M388,660 C386,664 386,670 390,674 M426,660 C428,664 428,670 424,674"/>
<path fill="#fff" stroke="#111" stroke-width="1.1" stroke-linejoin="round" d="M346.5,330 L346.5,533 C346.5,541 372,548 403,548 C434,548 459.5,541 459.5,533 L459.5,330 Z"/>
<path fill="none" stroke="#111" stroke-width="0.9" stroke-linejoin="round" stroke-linecap="round" d="M347,528 C350,536 375,543 403,543 C432,543 456,536 459,528"/>
<path fill="none" stroke="#111" stroke-width="1.5" d="M352,538 C362,544 380,546.5 403,546.5 C426,546.5 446,543 456,537"/>
<path clip-path="url(#cf9)" fill="#fff" fill-rule="evenodd" stroke="#111" stroke-width="0.95" d="M494.00,750.00 L493.79,753.35 L493.15,756.68 L492.09,759.98 L490.61,763.23 L488.72,766.42 L486.44,769.52 L483.76,772.53 L480.70,775.44 L477.29,778.21 L473.53,780.85 L469.44,783.34 L465.05,785.67 L460.37,787.82 L455.43,789.79 L450.25,791.57 L444.86,793.14 L439.28,794.50 L433.54,795.65 L427.67,796.57 L421.69,797.27 L415.65,797.74 L409.55,797.97 L403.45,797.97 L397.35,797.74 L391.31,797.27 L385.33,796.57 L379.46,795.65 L373.72,794.50 L368.14,793.14 L362.75,791.57 L357.57,789.79 L352.63,787.82 L347.95,785.67 L343.56,783.34 L339.47,780.85 L335.71,778.21 L332.30,775.44 L329.24,772.53 L326.56,769.52 L324.28,766.42 L322.39,763.23 L320.91,759.98 L319.85,756.68 L319.21,753.35 L319.00,750.00 L319.21,746.65 L319.85,743.32 L320.91,740.02 L322.39,736.77 L324.28,733.58 L326.56,730.48 L329.24,727.47 L332.30,724.56 L335.71,721.79 L339.47,719.15 L343.56,716.66 L347.95,714.33 L352.63,712.18 L357.57,710.21 L362.75,708.43 L368.14,706.86 L373.72,705.50 L379.46,704.35 L385.33,703.43 L391.31,702.73 L397.35,702.26 L403.45,702.03 L409.55,702.03 L415.65,702.26 L421.69,702.73 L427.67,703.43 L433.54,704.35 L439.28,705.50 L444.86,706.86 L450.25,708.43 L455.43,710.21 L460.37,712.18 L465.05,714.33 L469.44,716.66 L473.53,719.15 L477.29,721.79 L480.70,724.56 L483.76,727.47 L486.44,730.48 L488.72,733.58 L490.61,736.77 L492.09,740.02 L493.15,743.32 L493.79,746.65Z M472.50,750.00 L472.34,751.53 L471.87,753.06 L471.08,754.57 L469.98,756.06 L468.58,757.52 L466.88,758.95 L464.89,760.33 L462.62,761.66 L460.09,762.93 L457.29,764.14 L454.26,765.28 L450.99,766.35 L447.52,767.34 L443.85,768.24 L440.00,769.05 L435.99,769.77 L431.85,770.40 L427.59,770.92 L423.22,771.35 L418.79,771.67 L414.29,771.88 L409.77,771.99 L405.23,771.99 L400.71,771.88 L396.21,771.67 L391.78,771.35 L387.41,770.92 L383.15,770.40 L379.01,769.77 L375.00,769.05 L371.15,768.24 L367.48,767.34 L364.01,766.35 L360.74,765.28 L357.71,764.14 L354.91,762.93 L352.38,761.66 L350.11,760.33 L348.12,758.95 L346.42,757.52 L345.02,756.06 L343.92,754.57 L343.13,753.06 L342.66,751.53 L342.50,750.00 L342.66,748.47 L343.13,746.94 L343.92,745.43 L345.02,743.94 L346.42,742.48 L348.12,741.05 L350.11,739.67 L352.38,738.34 L354.91,737.07 L357.71,735.86 L360.74,734.72 L364.01,733.65 L367.48,732.66 L371.15,731.76 L375.00,730.95 L379.01,730.23 L383.15,729.60 L387.41,729.08 L391.78,728.65 L396.21,728.33 L400.71,728.12 L405.23,728.01 L409.77,728.01 L414.29,728.12 L418.79,728.33 L423.22,728.65 L427.59,729.08 L431.85,729.60 L435.99,730.23 L440.00,730.95 L443.85,731.76 L447.52,732.66 L450.99,733.65 L454.26,734.72 L457.29,735.86 L460.09,737.07 L462.62,738.34 L464.89,739.67 L466.88,741.05 L468.58,742.48 L469.98,743.94 L471.08,745.43 L471.87,746.94 L472.34,748.47Z"/>
<path clip-path="url(#cf8)" fill="#fff" fill-rule="evenodd" stroke="#111" stroke-width="0.95" d="M493.91,694.72 L494.43,698.36 L494.52,702.06 L494.18,705.82 L493.41,709.61 L492.22,713.42 L490.62,717.22 L488.60,721.00 L486.18,724.73 L483.38,728.41 L480.20,732.01 L476.66,735.51 L472.78,738.91 L468.58,742.17 L464.07,745.29 L459.29,748.25 L454.24,751.03 L448.97,753.63 L443.48,756.03 L437.82,758.21 L432.01,760.17 L426.07,761.90 L420.03,763.39 L413.93,764.63 L407.79,765.62 L401.65,766.35 L395.53,766.82 L389.46,767.02 L383.48,766.95 L377.61,766.62 L371.88,766.03 L366.32,765.18 L360.95,764.07 L355.80,762.70 L350.91,761.10 L346.28,759.25 L341.95,757.18 L337.93,754.90 L334.25,752.40 L330.91,749.71 L327.95,746.84 L325.37,743.80 L323.18,740.61 L321.40,737.28 L320.04,733.84 L319.09,730.28 L318.57,726.64 L318.48,722.94 L318.82,719.18 L319.59,715.39 L320.78,711.58 L322.38,707.78 L324.40,704.00 L326.82,700.27 L329.62,696.59 L332.80,692.99 L336.34,689.49 L340.22,686.09 L344.42,682.83 L348.93,679.71 L353.71,676.75 L358.76,673.97 L364.03,671.37 L369.52,668.97 L375.18,666.79 L380.99,664.83 L386.93,663.10 L392.97,661.61 L399.07,660.37 L405.21,659.38 L411.35,658.65 L417.47,658.18 L423.54,657.98 L429.52,658.05 L435.39,658.38 L441.12,658.97 L446.68,659.82 L452.05,660.93 L457.20,662.30 L462.09,663.90 L466.72,665.75 L471.05,667.82 L475.07,670.10 L478.75,672.60 L482.09,675.29 L485.05,678.16 L487.63,681.20 L489.82,684.39 L491.60,687.72 L492.96,691.16Z M473.23,697.03 L473.52,699.15 L473.48,701.33 L473.12,703.56 L472.44,705.82 L471.44,708.11 L470.14,710.41 L468.52,712.72 L466.61,715.01 L464.42,717.29 L461.94,719.54 L459.20,721.74 L456.21,723.89 L452.98,725.98 L449.53,728.00 L445.88,729.94 L442.03,731.78 L438.02,733.52 L433.86,735.15 L429.58,736.66 L425.18,738.05 L420.70,739.31 L416.15,740.43 L411.56,741.40 L406.96,742.23 L402.35,742.90 L397.77,743.42 L393.24,743.78 L388.78,743.99 L384.40,744.03 L380.14,743.91 L376.02,743.63 L372.05,743.19 L368.24,742.59 L364.64,741.84 L361.24,740.94 L358.06,739.90 L355.13,738.71 L352.45,737.39 L350.04,735.94 L347.91,734.37 L346.07,732.68 L344.53,730.89 L343.29,729.00 L342.37,727.03 L341.77,724.97 L341.48,722.85 L341.52,720.67 L341.88,718.44 L342.56,716.18 L343.56,713.89 L344.86,711.59 L346.48,709.28 L348.39,706.99 L350.58,704.71 L353.06,702.46 L355.80,700.26 L358.79,698.11 L362.02,696.02 L365.47,694.00 L369.12,692.06 L372.97,690.22 L376.98,688.48 L381.14,686.85 L385.42,685.34 L389.82,683.95 L394.30,682.69 L398.85,681.57 L403.44,680.60 L408.04,679.77 L412.65,679.10 L417.23,678.58 L421.76,678.22 L426.22,678.01 L430.60,677.97 L434.86,678.09 L438.98,678.37 L442.95,678.81 L446.76,679.41 L450.36,680.16 L453.76,681.06 L456.94,682.10 L459.87,683.29 L462.55,684.61 L464.96,686.06 L467.09,687.63 L468.93,689.32 L470.47,691.11 L471.71,693.00 L472.63,694.97Z"/>
<path clip-path="url(#cf7)" fill="#fff" fill-rule="evenodd" stroke="#111" stroke-width="0.95" d="M493.91,646.72 L494.43,650.36 L494.52,654.06 L494.18,657.82 L493.41,661.61 L492.22,665.42 L490.62,669.22 L488.60,673.00 L486.18,676.73 L483.38,680.41 L480.20,684.01 L476.66,687.51 L472.78,690.91 L468.58,694.17 L464.07,697.29 L459.29,700.25 L454.24,703.03 L448.97,705.63 L443.48,708.03 L437.82,710.21 L432.01,712.17 L426.07,713.90 L420.03,715.39 L413.93,716.63 L407.79,717.62 L401.65,718.35 L395.53,718.82 L389.46,719.02 L383.48,718.95 L377.61,718.62 L371.88,718.03 L366.32,717.18 L360.95,716.07 L355.80,714.70 L350.91,713.10 L346.28,711.25 L341.95,709.18 L337.93,706.90 L334.25,704.40 L330.91,701.71 L327.95,698.84 L325.37,695.80 L323.18,692.61 L321.40,689.28 L320.04,685.84 L319.09,682.28 L318.57,678.64 L318.48,674.94 L318.82,671.18 L319.59,667.39 L320.78,663.58 L322.38,659.78 L324.40,656.00 L326.82,652.27 L329.62,648.59 L332.80,644.99 L336.34,641.49 L340.22,638.09 L344.42,634.83 L348.93,631.71 L353.71,628.75 L358.76,625.97 L364.03,623.37 L369.52,620.97 L375.18,618.79 L380.99,616.83 L386.93,615.10 L392.97,613.61 L399.07,612.37 L405.21,611.38 L411.35,610.65 L417.47,610.18 L423.54,609.98 L429.52,610.05 L435.39,610.38 L441.12,610.97 L446.68,611.82 L452.05,612.93 L457.20,614.30 L462.09,615.90 L466.72,617.75 L471.05,619.82 L475.07,622.10 L478.75,624.60 L482.09,627.29 L485.05,630.16 L487.63,633.20 L489.82,636.39 L491.60,639.72 L492.96,643.16Z M473.23,649.03 L473.52,651.15 L473.48,653.33 L473.12,655.56 L472.44,657.82 L471.44,660.11 L470.14,662.41 L468.52,664.72 L466.61,667.01 L464.42,669.29 L461.94,671.54 L459.20,673.74 L456.21,675.89 L452.98,677.98 L449.53,680.00 L445.88,681.94 L442.03,683.78 L438.02,685.52 L433.86,687.15 L429.58,688.66 L425.18,690.05 L420.70,691.31 L416.15,692.43 L411.56,693.40 L406.96,694.23 L402.35,694.90 L397.77,695.42 L393.24,695.78 L388.78,695.99 L384.40,696.03 L380.14,695.91 L376.02,695.63 L372.05,695.19 L368.24,694.59 L364.64,693.84 L361.24,692.94 L358.06,691.90 L355.13,690.71 L352.45,689.39 L350.04,687.94 L347.91,686.37 L346.07,684.68 L344.53,682.89 L343.29,681.00 L342.37,679.03 L341.77,676.97 L341.48,674.85 L341.52,672.67 L341.88,670.44 L342.56,668.18 L343.56,665.89 L344.86,663.59 L346.48,661.28 L348.39,658.99 L350.58,656.71 L353.06,654.46 L355.80,652.26 L358.79,650.11 L362.02,648.02 L365.47,646.00 L369.12,644.06 L372.97,642.22 L376.98,640.48 L381.14,638.85 L385.42,637.34 L389.82,635.95 L394.30,634.69 L398.85,633.57 L403.44,632.60 L408.04,631.77 L412.65,631.10 L417.23,630.58 L421.76,630.22 L426.22,630.01 L430.60,629.97 L434.86,630.09 L438.98,630.37 L442.95,630.81 L446.76,631.41 L450.36,632.16 L453.76,633.06 L456.94,634.10 L459.87,635.29 L462.55,636.61 L464.96,638.06 L467.09,639.63 L468.93,641.32 L470.47,643.11 L471.71,645.00 L472.63,646.97Z"/>
<path clip-path="url(#cf6)" fill="#fff" fill-rule="evenodd" stroke="#111" stroke-width="0.95" d="M493.91,598.72 L494.43,602.36 L494.52,606.06 L494.18,609.82 L493.41,613.61 L492.22,617.42 L490.62,621.22 L488.60,625.00 L486.18,628.73 L483.38,632.41 L480.20,636.01 L476.66,639.51 L472.78,642.91 L468.58,646.17 L464.07,649.29 L459.29,652.25 L454.24,655.03 L448.97,657.63 L443.48,660.03 L437.82,662.21 L432.01,664.17 L426.07,665.90 L420.03,667.39 L413.93,668.63 L407.79,669.62 L401.65,670.35 L395.53,670.82 L389.46,671.02 L383.48,670.95 L377.61,670.62 L371.88,670.03 L366.32,669.18 L360.95,668.07 L355.80,666.70 L350.91,665.10 L346.28,663.25 L341.95,661.18 L337.93,658.90 L334.25,656.40 L330.91,653.71 L327.95,650.84 L325.37,647.80 L323.18,644.61 L321.40,641.28 L320.04,637.84 L319.09,634.28 L318.57,630.64 L318.48,626.94 L318.82,623.18 L319.59,619.39 L320.78,615.58 L322.38,611.78 L324.40,608.00 L326.82,604.27 L329.62,600.59 L332.80,596.99 L336.34,593.49 L340.22,590.09 L344.42,586.83 L348.93,583.71 L353.71,580.75 L358.76,577.97 L364.03,575.37 L369.52,572.97 L375.18,570.79 L380.99,568.83 L386.93,567.10 L392.97,565.61 L399.07,564.37 L405.21,563.38 L411.35,562.65 L417.47,562.18 L423.54,561.98 L429.52,562.05 L435.39,562.38 L441.12,562.97 L446.68,563.82 L452.05,564.93 L457.20,566.30 L462.09,567.90 L466.72,569.75 L471.05,571.82 L475.07,574.10 L478.75,576.60 L482.09,579.29 L485.05,582.16 L487.63,585.20 L489.82,588.39 L491.60,591.72 L492.96,595.16Z M473.23,601.03 L473.52,603.15 L473.48,605.33 L473.12,607.56 L472.44,609.82 L471.44,612.11 L470.14,614.41 L468.52,616.72 L466.61,619.01 L464.42,621.29 L461.94,623.54 L459.20,625.74 L456.21,627.89 L452.98,629.98 L449.53,632.00 L445.88,633.94 L442.03,635.78 L438.02,637.52 L433.86,639.15 L429.58,640.66 L425.18,642.05 L420.70,643.31 L416.15,644.43 L411.56,645.40 L406.96,646.23 L402.35,646.90 L397.77,647.42 L393.24,647.78 L388.78,647.99 L384.40,648.03 L380.14,647.91 L376.02,647.63 L372.05,647.19 L368.24,646.59 L364.64,645.84 L361.24,644.94 L358.06,643.90 L355.13,642.71 L352.45,641.39 L350.04,639.94 L347.91,638.37 L346.07,636.68 L344.53,634.89 L343.29,633.00 L342.37,631.03 L341.77,628.97 L341.48,626.85 L341.52,624.67 L341.88,622.44 L342.56,620.18 L343.56,617.89 L344.86,615.59 L346.48,613.28 L348.39,610.99 L350.58,608.71 L353.06,606.46 L355.80,604.26 L358.79,602.11 L362.02,600.02 L365.47,598.00 L369.12,596.06 L372.97,594.22 L376.98,592.48 L381.14,590.85 L385.42,589.34 L389.82,587.95 L394.30,586.69 L398.85,585.57 L403.44,584.60 L408.04,583.77 L412.65,583.10 L417.23,582.58 L421.76,582.22 L426.22,582.01 L430.60,581.97 L434.86,582.09 L438.98,582.37 L442.95,582.81 L446.76,583.41 L450.36,584.16 L453.76,585.06 L456.94,586.10 L459.87,587.29 L462.55,588.61 L464.96,590.06 L467.09,591.63 L468.93,593.32 L470.47,595.11 L471.71,597.00 L472.63,598.97Z"/>
<path clip-path="url(#cf5)" fill="#fff" fill-rule="evenodd" stroke="#111" stroke-width="0.95" d="M493.91,550.72 L494.43,554.36 L494.52,558.06 L494.18,561.82 L493.41,565.61 L492.22,569.42 L490.62,573.22 L488.60,577.00 L486.18,580.73 L483.38,584.41 L480.20,588.01 L476.66,591.51 L472.78,594.91 L468.58,598.17 L464.07,601.29 L459.29,604.25 L454.24,607.03 L448.97,609.63 L443.48,612.03 L437.82,614.21 L432.01,616.17 L426.07,617.90 L420.03,619.39 L413.93,620.63 L407.79,621.62 L401.65,622.35 L395.53,622.82 L389.46,623.02 L383.48,622.95 L377.61,622.62 L371.88,622.03 L366.32,621.18 L360.95,620.07 L355.80,618.70 L350.91,617.10 L346.28,615.25 L341.95,613.18 L337.93,610.90 L334.25,608.40 L330.91,605.71 L327.95,602.84 L325.37,599.80 L323.18,596.61 L321.40,593.28 L320.04,589.84 L319.09,586.28 L318.57,582.64 L318.48,578.94 L318.82,575.18 L319.59,571.39 L320.78,567.58 L322.38,563.78 L324.40,560.00 L326.82,556.27 L329.62,552.59 L332.80,548.99 L336.34,545.49 L340.22,542.09 L344.42,538.83 L348.93,535.71 L353.71,532.75 L358.76,529.97 L364.03,527.37 L369.52,524.97 L375.18,522.79 L380.99,520.83 L386.93,519.10 L392.97,517.61 L399.07,516.37 L405.21,515.38 L411.35,514.65 L417.47,514.18 L423.54,513.98 L429.52,514.05 L435.39,514.38 L441.12,514.97 L446.68,515.82 L452.05,516.93 L457.20,518.30 L462.09,519.90 L466.72,521.75 L471.05,523.82 L475.07,526.10 L478.75,528.60 L482.09,531.29 L485.05,534.16 L487.63,537.20 L489.82,540.39 L491.60,543.72 L492.96,547.16Z M473.23,553.03 L473.52,555.15 L473.48,557.33 L473.12,559.56 L472.44,561.82 L471.44,564.11 L470.14,566.41 L468.52,568.72 L466.61,571.01 L464.42,573.29 L461.94,575.54 L459.20,577.74 L456.21,579.89 L452.98,581.98 L449.53,584.00 L445.88,585.94 L442.03,587.78 L438.02,589.52 L433.86,591.15 L429.58,592.66 L425.18,594.05 L420.70,595.31 L416.15,596.43 L411.56,597.40 L406.96,598.23 L402.35,598.90 L397.77,599.42 L393.24,599.78 L388.78,599.99 L384.40,600.03 L380.14,599.91 L376.02,599.63 L372.05,599.19 L368.24,598.59 L364.64,597.84 L361.24,596.94 L358.06,595.90 L355.13,594.71 L352.45,593.39 L350.04,591.94 L347.91,590.37 L346.07,588.68 L344.53,586.89 L343.29,585.00 L342.37,583.03 L341.77,580.97 L341.48,578.85 L341.52,576.67 L341.88,574.44 L342.56,572.18 L343.56,569.89 L344.86,567.59 L346.48,565.28 L348.39,562.99 L350.58,560.71 L353.06,558.46 L355.80,556.26 L358.79,554.11 L362.02,552.02 L365.47,550.00 L369.12,548.06 L372.97,546.22 L376.98,544.48 L381.14,542.85 L385.42,541.34 L389.82,539.95 L394.30,538.69 L398.85,537.57 L403.44,536.60 L408.04,535.77 L412.65,535.10 L417.23,534.58 L421.76,534.22 L426.22,534.01 L430.60,533.97 L434.86,534.09 L438.98,534.37 L442.95,534.81 L446.76,535.41 L450.36,536.16 L453.76,537.06 L456.94,538.10 L459.87,539.29 L462.55,540.61 L464.96,542.06 L467.09,543.63 L468.93,545.32 L470.47,547.11 L471.71,549.00 L472.63,550.97Z"/>
<path clip-path="url(#cf4)" fill="#fff" fill-rule="evenodd" stroke="#111" stroke-width="0.95" d="M493.91,502.72 L494.43,506.36 L494.52,510.06 L494.18,513.82 L493.41,517.61 L492.22,521.42 L490.62,525.22 L488.60,529.00 L486.18,532.73 L483.38,536.41 L480.20,540.01 L476.66,543.51 L472.78,546.91 L468.58,550.17 L464.07,553.29 L459.29,556.25 L454.24,559.03 L448.97,561.63 L443.48,564.03 L437.82,566.21 L432.01,568.17 L426.07,569.90 L420.03,571.39 L413.93,572.63 L407.79,573.62 L401.65,574.35 L395.53,574.82 L389.46,575.02 L383.48,574.95 L377.61,574.62 L371.88,574.03 L366.32,573.18 L360.95,572.07 L355.80,570.70 L350.91,569.10 L346.28,567.25 L341.95,565.18 L337.93,562.90 L334.25,560.40 L330.91,557.71 L327.95,554.84 L325.37,551.80 L323.18,548.61 L321.40,545.28 L320.04,541.84 L319.09,538.28 L318.57,534.64 L318.48,530.94 L318.82,527.18 L319.59,523.39 L320.78,519.58 L322.38,515.78 L324.40,512.00 L326.82,508.27 L329.62,504.59 L332.80,500.99 L336.34,497.49 L340.22,494.09 L344.42,490.83 L348.93,487.71 L353.71,484.75 L358.76,481.97 L364.03,479.37 L369.52,476.97 L375.18,474.79 L380.99,472.83 L386.93,471.10 L392.97,469.61 L399.07,468.37 L405.21,467.38 L411.35,466.65 L417.47,466.18 L423.54,465.98 L429.52,466.05 L435.39,466.38 L441.12,466.97 L446.68,467.82 L452.05,468.93 L457.20,470.30 L462.09,471.90 L466.72,473.75 L471.05,475.82 L475.07,478.10 L478.75,480.60 L482.09,483.29 L485.05,486.16 L487.63,489.20 L489.82,492.39 L491.60,495.72 L492.96,499.16Z M473.23,505.03 L473.52,507.15 L473.48,509.33 L473.12,511.56 L472.44,513.82 L471.44,516.11 L470.14,518.41 L468.52,520.72 L466.61,523.01 L464.42,525.29 L461.94,527.54 L459.20,529.74 L456.21,531.89 L452.98,533.98 L449.53,536.00 L445.88,537.94 L442.03,539.78 L438.02,541.52 L433.86,543.15 L429.58,544.66 L425.18,546.05 L420.70,547.31 L416.15,548.43 L411.56,549.40 L406.96,550.23 L402.35,550.90 L397.77,551.42 L393.24,551.78 L388.78,551.99 L384.40,552.03 L380.14,551.91 L376.02,551.63 L372.05,551.19 L368.24,550.59 L364.64,549.84 L361.24,548.94 L358.06,547.90 L355.13,546.71 L352.45,545.39 L350.04,543.94 L347.91,542.37 L346.07,540.68 L344.53,538.89 L343.29,537.00 L342.37,535.03 L341.77,532.97 L341.48,530.85 L341.52,528.67 L341.88,526.44 L342.56,524.18 L343.56,521.89 L344.86,519.59 L346.48,517.28 L348.39,514.99 L350.58,512.71 L353.06,510.46 L355.80,508.26 L358.79,506.11 L362.02,504.02 L365.47,502.00 L369.12,500.06 L372.97,498.22 L376.98,496.48 L381.14,494.85 L385.42,493.34 L389.82,491.95 L394.30,490.69 L398.85,489.57 L403.44,488.60 L408.04,487.77 L412.65,487.10 L417.23,486.58 L421.76,486.22 L426.22,486.01 L430.60,485.97 L434.86,486.09 L438.98,486.37 L442.95,486.81 L446.76,487.41 L450.36,488.16 L453.76,489.06 L456.94,490.10 L459.87,491.29 L462.55,492.61 L464.96,494.06 L467.09,495.63 L468.93,497.32 L470.47,499.11 L471.71,501.00 L472.63,502.97Z"/>
<path clip-path="url(#cf3)" fill="#fff" fill-rule="evenodd" stroke="#111" stroke-width="0.95" d="M493.91,454.72 L494.43,458.36 L494.52,462.06 L494.18,465.82 L493.41,469.61 L492.22,473.42 L490.62,477.22 L488.60,481.00 L486.18,484.73 L483.38,488.41 L480.20,492.01 L476.66,495.51 L472.78,498.91 L468.58,502.17 L464.07,505.29 L459.29,508.25 L454.24,511.03 L448.97,513.63 L443.48,516.03 L437.82,518.21 L432.01,520.17 L426.07,521.90 L420.03,523.39 L413.93,524.63 L407.79,525.62 L401.65,526.35 L395.53,526.82 L389.46,527.02 L383.48,526.95 L377.61,526.62 L371.88,526.03 L366.32,525.18 L360.95,524.07 L355.80,522.70 L350.91,521.10 L346.28,519.25 L341.95,517.18 L337.93,514.90 L334.25,512.40 L330.91,509.71 L327.95,506.84 L325.37,503.80 L323.18,500.61 L321.40,497.28 L320.04,493.84 L319.09,490.28 L318.57,486.64 L318.48,482.94 L318.82,479.18 L319.59,475.39 L320.78,471.58 L322.38,467.78 L324.40,464.00 L326.82,460.27 L329.62,456.59 L332.80,452.99 L336.34,449.49 L340.22,446.09 L344.42,442.83 L348.93,439.71 L353.71,436.75 L358.76,433.97 L364.03,431.37 L369.52,428.97 L375.18,426.79 L380.99,424.83 L386.93,423.10 L392.97,421.61 L399.07,420.37 L405.21,419.38 L411.35,418.65 L417.47,418.18 L423.54,417.98 L429.52,418.05 L435.39,418.38 L441.12,418.97 L446.68,419.82 L452.05,420.93 L457.20,422.30 L462.09,423.90 L466.72,425.75 L471.05,427.82 L475.07,430.10 L478.75,432.60 L482.09,435.29 L485.05,438.16 L487.63,441.20 L489.82,444.39 L491.60,447.72 L492.96,451.16Z M473.23,457.03 L473.52,459.15 L473.48,461.33 L473.12,463.56 L472.44,465.82 L471.44,468.11 L470.14,470.41 L468.52,472.72 L466.61,475.01 L464.42,477.29 L461.94,479.54 L459.20,481.74 L456.21,483.89 L452.98,485.98 L449.53,488.00 L445.88,489.94 L442.03,491.78 L438.02,493.52 L433.86,495.15 L429.58,496.66 L425.18,498.05 L420.70,499.31 L416.15,500.43 L411.56,501.40 L406.96,502.23 L402.35,502.90 L397.77,503.42 L393.24,503.78 L388.78,503.99 L384.40,504.03 L380.14,503.91 L376.02,503.63 L372.05,503.19 L368.24,502.59 L364.64,501.84 L361.24,500.94 L358.06,499.90 L355.13,498.71 L352.45,497.39 L350.04,495.94 L347.91,494.37 L346.07,492.68 L344.53,490.89 L343.29,489.00 L342.37,487.03 L341.77,484.97 L341.48,482.85 L341.52,480.67 L341.88,478.44 L342.56,476.18 L343.56,473.89 L344.86,471.59 L346.48,469.28 L348.39,466.99 L350.58,464.71 L353.06,462.46 L355.80,460.26 L358.79,458.11 L362.02,456.02 L365.47,454.00 L369.12,452.06 L372.97,450.22 L376.98,448.48 L381.14,446.85 L385.42,445.34 L389.82,443.95 L394.30,442.69 L398.85,441.57 L403.44,440.60 L408.04,439.77 L412.65,439.10 L417.23,438.58 L421.76,438.22 L426.22,438.01 L430.60,437.97 L434.86,438.09 L438.98,438.37 L442.95,438.81 L446.76,439.41 L450.36,440.16 L453.76,441.06 L456.94,442.10 L459.87,443.29 L462.55,444.61 L464.96,446.06 L467.09,447.63 L468.93,449.32 L470.47,451.11 L471.71,453.00 L472.63,454.97Z"/>
<path clip-path="url(#cf2)" fill="#fff" fill-rule="evenodd" stroke="#111" stroke-width="0.95" d="M493.91,406.72 L494.43,410.36 L494.52,414.06 L494.18,417.82 L493.41,421.61 L492.22,425.42 L490.62,429.22 L488.60,433.00 L486.18,436.73 L483.38,440.41 L480.20,444.01 L476.66,447.51 L472.78,450.91 L468.58,454.17 L464.07,457.29 L459.29,460.25 L454.24,463.03 L448.97,465.63 L443.48,468.03 L437.82,470.21 L432.01,472.17 L426.07,473.90 L420.03,475.39 L413.93,476.63 L407.79,477.62 L401.65,478.35 L395.53,478.82 L389.46,479.02 L383.48,478.95 L377.61,478.62 L371.88,478.03 L366.32,477.18 L360.95,476.07 L355.80,474.70 L350.91,473.10 L346.28,471.25 L341.95,469.18 L337.93,466.90 L334.25,464.40 L330.91,461.71 L327.95,458.84 L325.37,455.80 L323.18,452.61 L321.40,449.28 L320.04,445.84 L319.09,442.28 L318.57,438.64 L318.48,434.94 L318.82,431.18 L319.59,427.39 L320.78,423.58 L322.38,419.78 L324.40,416.00 L326.82,412.27 L329.62,408.59 L332.80,404.99 L336.34,401.49 L340.22,398.09 L344.42,394.83 L348.93,391.71 L353.71,388.75 L358.76,385.97 L364.03,383.37 L369.52,380.97 L375.18,378.79 L380.99,376.83 L386.93,375.10 L392.97,373.61 L399.07,372.37 L405.21,371.38 L411.35,370.65 L417.47,370.18 L423.54,369.98 L429.52,370.05 L435.39,370.38 L441.12,370.97 L446.68,371.82 L452.05,372.93 L457.20,374.30 L462.09,375.90 L466.72,377.75 L471.05,379.82 L475.07,382.10 L478.75,384.60 L482.09,387.29 L485.05,390.16 L487.63,393.20 L489.82,396.39 L491.60,399.72 L492.96,403.16Z M473.23,409.03 L473.52,411.15 L473.48,413.33 L473.12,415.56 L472.44,417.82 L471.44,420.11 L470.14,422.41 L468.52,424.72 L466.61,427.01 L464.42,429.29 L461.94,431.54 L459.20,433.74 L456.21,435.89 L452.98,437.98 L449.53,440.00 L445.88,441.94 L442.03,443.78 L438.02,445.52 L433.86,447.15 L429.58,448.66 L425.18,450.05 L420.70,451.31 L416.15,452.43 L411.56,453.40 L406.96,454.23 L402.35,454.90 L397.77,455.42 L393.24,455.78 L388.78,455.99 L384.40,456.03 L380.14,455.91 L376.02,455.63 L372.05,455.19 L368.24,454.59 L364.64,453.84 L361.24,452.94 L358.06,451.90 L355.13,450.71 L352.45,449.39 L350.04,447.94 L347.91,446.37 L346.07,444.68 L344.53,442.89 L343.29,441.00 L342.37,439.03 L341.77,436.97 L341.48,434.85 L341.52,432.67 L341.88,430.44 L342.56,428.18 L343.56,425.89 L344.86,423.59 L346.48,421.28 L348.39,418.99 L350.58,416.71 L353.06,414.46 L355.80,412.26 L358.79,410.11 L362.02,408.02 L365.47,406.00 L369.12,404.06 L372.97,402.22 L376.98,400.48 L381.14,398.85 L385.42,397.34 L389.82,395.95 L394.30,394.69 L398.85,393.57 L403.44,392.60 L408.04,391.77 L412.65,391.10 L417.23,390.58 L421.76,390.22 L426.22,390.01 L430.60,389.97 L434.86,390.09 L438.98,390.37 L442.95,390.81 L446.76,391.41 L450.36,392.16 L453.76,393.06 L456.94,394.10 L459.87,395.29 L462.55,396.61 L464.96,398.06 L467.09,399.63 L468.93,401.32 L470.47,403.11 L471.71,405.00 L472.63,406.97Z"/>
<path clip-path="url(#cf1)" fill="#fff" fill-rule="evenodd" stroke="#111" stroke-width="0.95" d="M493.91,358.72 L494.43,362.36 L494.52,366.06 L494.18,369.82 L493.41,373.61 L492.22,377.42 L490.62,381.22 L488.60,385.00 L486.18,388.73 L483.38,392.41 L480.20,396.01 L476.66,399.51 L472.78,402.91 L468.58,406.17 L464.07,409.29 L459.29,412.25 L454.24,415.03 L448.97,417.63 L443.48,420.03 L437.82,422.21 L432.01,424.17 L426.07,425.90 L420.03,427.39 L413.93,428.63 L407.79,429.62 L401.65,430.35 L395.53,430.82 L389.46,431.02 L383.48,430.95 L377.61,430.62 L371.88,430.03 L366.32,429.18 L360.95,428.07 L355.80,426.70 L350.91,425.10 L346.28,423.25 L341.95,421.18 L337.93,418.90 L334.25,416.40 L330.91,413.71 L327.95,410.84 L325.37,407.80 L323.18,404.61 L321.40,401.28 L320.04,397.84 L319.09,394.28 L318.57,390.64 L318.48,386.94 L318.82,383.18 L319.59,379.39 L320.78,375.58 L322.38,371.78 L324.40,368.00 L326.82,364.27 L329.62,360.59 L332.80,356.99 L336.34,353.49 L340.22,350.09 L344.42,346.83 L348.93,343.71 L353.71,340.75 L358.76,337.97 L364.03,335.37 L369.52,332.97 L375.18,330.79 L380.99,328.83 L386.93,327.10 L392.97,325.61 L399.07,324.37 L405.21,323.38 L411.35,322.65 L417.47,322.18 L423.54,321.98 L429.52,322.05 L435.39,322.38 L441.12,322.97 L446.68,323.82 L452.05,324.93 L457.20,326.30 L462.09,327.90 L466.72,329.75 L471.05,331.82 L475.07,334.10 L478.75,336.60 L482.09,339.29 L485.05,342.16 L487.63,345.20 L489.82,348.39 L491.60,351.72 L492.96,355.16Z M473.23,361.03 L473.52,363.15 L473.48,365.33 L473.12,367.56 L472.44,369.82 L471.44,372.11 L470.14,374.41 L468.52,376.72 L466.61,379.01 L464.42,381.29 L461.94,383.54 L459.20,385.74 L456.21,387.89 L452.98,389.98 L449.53,392.00 L445.88,393.94 L442.03,395.78 L438.02,397.52 L433.86,399.15 L429.58,400.66 L425.18,402.05 L420.70,403.31 L416.15,404.43 L411.56,405.40 L406.96,406.23 L402.35,406.90 L397.77,407.42 L393.24,407.78 L388.78,407.99 L384.40,408.03 L380.14,407.91 L376.02,407.63 L372.05,407.19 L368.24,406.59 L364.64,405.84 L361.24,404.94 L358.06,403.90 L355.13,402.71 L352.45,401.39 L350.04,399.94 L347.91,398.37 L346.07,396.68 L344.53,394.89 L343.29,393.00 L342.37,391.03 L341.77,388.97 L341.48,386.85 L341.52,384.67 L341.88,382.44 L342.56,380.18 L343.56,377.89 L344.86,375.59 L346.48,373.28 L348.39,370.99 L350.58,368.71 L353.06,366.46 L355.80,364.26 L358.79,362.11 L362.02,360.02 L365.47,358.00 L369.12,356.06 L372.97,354.22 L376.98,352.48 L381.14,350.85 L385.42,349.34 L389.82,347.95 L394.30,346.69 L398.85,345.57 L403.44,344.60 L408.04,343.77 L412.65,343.10 L417.23,342.58 L421.76,342.22 L426.22,342.01 L430.60,341.97 L434.86,342.09 L438.98,342.37 L442.95,342.81 L446.76,343.41 L450.36,344.16 L453.76,345.06 L456.94,346.10 L459.87,347.29 L462.55,348.61 L464.96,350.06 L467.09,351.63 L468.93,353.32 L470.47,355.11 L471.71,357.00 L472.63,358.97Z"/>
<path clip-path="url(#cf0)" fill="#fff" fill-rule="evenodd" stroke="#111" stroke-width="0.95" d="M493.91,317.72 L494.43,321.36 L494.52,325.06 L494.18,328.82 L493.41,332.61 L492.22,336.42 L490.62,340.22 L488.60,344.00 L486.18,347.73 L483.38,351.41 L480.20,355.01 L476.66,358.51 L472.78,361.91 L468.58,365.17 L464.07,368.29 L459.29,371.25 L454.24,374.03 L448.97,376.63 L443.48,379.03 L437.82,381.21 L432.01,383.17 L426.07,384.90 L420.03,386.39 L413.93,387.63 L407.79,388.62 L401.65,389.35 L395.53,389.82 L389.46,390.02 L383.48,389.95 L377.61,389.62 L371.88,389.03 L366.32,388.18 L360.95,387.07 L355.80,385.70 L350.91,384.10 L346.28,382.25 L341.95,380.18 L337.93,377.90 L334.25,375.40 L330.91,372.71 L327.95,369.84 L325.37,366.80 L323.18,363.61 L321.40,360.28 L320.04,356.84 L319.09,353.28 L318.57,349.64 L318.48,345.94 L318.82,342.18 L319.59,338.39 L320.78,334.58 L322.38,330.78 L324.40,327.00 L326.82,323.27 L329.62,319.59 L332.80,315.99 L336.34,312.49 L340.22,309.09 L344.42,305.83 L348.93,302.71 L353.71,299.75 L358.76,296.97 L364.03,294.37 L369.52,291.97 L375.18,289.79 L380.99,287.83 L386.93,286.10 L392.97,284.61 L399.07,283.37 L405.21,282.38 L411.35,281.65 L417.47,281.18 L423.54,280.98 L429.52,281.05 L435.39,281.38 L441.12,281.97 L446.68,282.82 L452.05,283.93 L457.20,285.30 L462.09,286.90 L466.72,288.75 L471.05,290.82 L475.07,293.10 L478.75,295.60 L482.09,298.29 L485.05,301.16 L487.63,304.20 L489.82,307.39 L491.60,310.72 L492.96,314.16Z M473.23,320.03 L473.52,322.15 L473.48,324.33 L473.12,326.56 L472.44,328.82 L471.44,331.11 L470.14,333.41 L468.52,335.72 L466.61,338.01 L464.42,340.29 L461.94,342.54 L459.20,344.74 L456.21,346.89 L452.98,348.98 L449.53,351.00 L445.88,352.94 L442.03,354.78 L438.02,356.52 L433.86,358.15 L429.58,359.66 L425.18,361.05 L420.70,362.31 L416.15,363.43 L411.56,364.40 L406.96,365.23 L402.35,365.90 L397.77,366.42 L393.24,366.78 L388.78,366.99 L384.40,367.03 L380.14,366.91 L376.02,366.63 L372.05,366.19 L368.24,365.59 L364.64,364.84 L361.24,363.94 L358.06,362.90 L355.13,361.71 L352.45,360.39 L350.04,358.94 L347.91,357.37 L346.07,355.68 L344.53,353.89 L343.29,352.00 L342.37,350.03 L341.77,347.97 L341.48,345.85 L341.52,343.67 L341.88,341.44 L342.56,339.18 L343.56,336.89 L344.86,334.59 L346.48,332.28 L348.39,329.99 L350.58,327.71 L353.06,325.46 L355.80,323.26 L358.79,321.11 L362.02,319.02 L365.47,317.00 L369.12,315.06 L372.97,313.22 L376.98,311.48 L381.14,309.85 L385.42,308.34 L389.82,306.95 L394.30,305.69 L398.85,304.57 L403.44,303.60 L408.04,302.77 L412.65,302.10 L417.23,301.58 L421.76,301.22 L426.22,301.01 L430.60,300.97 L434.86,301.09 L438.98,301.37 L442.95,301.81 L446.76,302.41 L450.36,303.16 L453.76,304.06 L456.94,305.10 L459.87,306.29 L462.55,307.61 L464.96,309.06 L467.09,310.63 L468.93,312.32 L470.47,314.11 L471.71,316.00 L472.63,317.97Z"/>
<path fill="none" stroke="#111" stroke-width="0.9" stroke-linejoin="round" stroke-linecap="round" d="M462.5,783 L464,793 M467,781 L468.5,791"/>
<path fill="#fff" stroke="#111" stroke-width="1.1" stroke-linejoin="round" d="M385.8,898.5 C378,904 369,918 367,932 C366,948 371,960 380,967 C388,972 398,974 407,973.5 L438,955 C444,946 446.5,932 445.5,920 C443,910 436,902 427.6,897.5 C420,906.5 393,906.5 385.8,898.5Z"/>
<path fill="none" stroke="#111" stroke-width="0.9" stroke-linejoin="round" stroke-linecap="round" d="M386,897.5 C392,905.5 420,907.5 427.6,897.5"/>
<path fill="none" stroke="#111" stroke-width="0.9" stroke-linejoin="round" stroke-linecap="round" d="M380.5,905 C381,913 392,921 410,923 C420,923.5 428,919 433,912"/>
<ellipse cx="422.7" cy="942.8" rx="22.6" ry="31.9" transform="rotate(21 422.7 942.8)" fill="#fff" stroke="#111" stroke-width="1.0"/>
<ellipse cx="422.7" cy="942.8" rx="21.2" ry="30.3" transform="rotate(21 422.7 942.8)" fill="none" stroke="#111" stroke-width="0.8"/>
<ellipse cx="422.7" cy="942.8" rx="18.2" ry="26.6" transform="rotate(21 422.7 942.8)" fill="none" stroke="#111" stroke-width="1.4"/>
<ellipse cx="422.7" cy="942.8" rx="16.9" ry="25.0" transform="rotate(21 422.7 942.8)" fill="none" stroke="#111" stroke-width="0.8"/>
<ellipse cx="425.2" cy="943.6" rx="8.3" ry="10.8" transform="rotate(21 425.2 943.6)" fill="none" stroke="#111" stroke-width="1.1"/>
<ellipse cx="425.2" cy="943.6" rx="7" ry="9.4" transform="rotate(21 425.2 943.6)" fill="none" stroke="#222" stroke-width="0.7"/>
<ellipse cx="424" cy="849.5" rx="6.5" ry="8.5" transform="rotate(30 424 849.5)" fill="none" stroke="#111" stroke-width="0.9" stroke-linejoin="round" stroke-linecap="round"/>
<ellipse cx="424" cy="849.5" rx="4.8" ry="6.3" transform="rotate(30 424 849.5)" fill="#444" stroke="#111" stroke-width="0.8"/>
<circle cx="424" cy="849.8" r="2.7" fill="#000"/>
<path fill="#fff" stroke="#111" stroke-width="1.1" stroke-linejoin="round" d="M345,283.5 C341,286 338,289 337.5,291 C335,295 334,297 333,298.5 C331.5,302 330.8,304 330,306 C328,310 327,312 325.5,315 C323,318 321.5,319.5 319.5,321 C318,322.5 317,324 316.5,325.5 L317.2,347 C320,355 328,362 337.5,366 C345,370 350,372 357,373.5 C365,376 370,377 375,378 C392,381 408,383.5 422,384.5 L470,384.5 L470,283 Z"/>
<path fill="none" stroke="#111" stroke-width="0.9" stroke-linejoin="round" stroke-linecap="round" d="M345,292.5 C341,298 339.5,303 339.75,307.5 C340,313 341.5,318 343.5,321 C344.5,322.3 345.5,323.2 346.5,324"/>
<path fill="none" stroke="#111" stroke-width="0.9" stroke-linejoin="round" stroke-linecap="round" d="M316.5,325.5 L328.5,333.75 L330,334.5 C335,337 340,339 345,340.5 C355,343.5 365,345.5 375,346.5 C392,349 408,350.5 422,351"/>
<path fill="none" stroke="#111" stroke-width="0.9" stroke-linejoin="round" stroke-linecap="round" d="M328.5,333.75 L328.5,351.5"/>
<path fill="none" stroke="#111" stroke-width="0.9" stroke-linejoin="round" stroke-linecap="round" d="M317.2,347 L328.5,351.5 C334,356 340,360 345,362"/>
<path fill="none" stroke="#111" stroke-width="0.9" stroke-linejoin="round" stroke-linecap="round" d="M341,344 L341,361 M351,346 L351,364 M356,346.5 L356,365 M369,348 L369,367"/>
<path fill="none" stroke="#111" stroke-width="0.9" stroke-linejoin="round" stroke-linecap="round" d="M362,352.5 C362,350 365,349.5 367,351 L371,353.5 C372,355 370,357 368,356.5 L365,357.5 C362.5,357.5 361.5,355 362,352.5Z"/>
<path fill="#fff" stroke="#111" stroke-width="1.1" stroke-linejoin="round" d="M357,363 L381,366.5 L381,381 L357,376.5Z"/>
<path fill="none" stroke="#111" stroke-width="0.9" stroke-linejoin="round" stroke-linecap="round" d="M359,365.5 L379,368.5 M359,367.5 L379,370.5"/>
<path fill="#fff" stroke="#111" stroke-width="1.1" stroke-linejoin="round" d="M393,369 L420,370 L420,382.8 L393,381Z"/>
<path fill="none" stroke="#111" stroke-width="0.9" stroke-linejoin="round" stroke-linecap="round" d="M395,372 L418,372.8"/>
<path fill="none" stroke="#111" stroke-width="0.9" stroke-linejoin="round" stroke-linecap="round" d="M359.5,331.5 L359.5,334.5 L363,335.5 L363,332.5"/>
<path fill="none" stroke="#111" stroke-width="0.9" stroke-linejoin="round" stroke-linecap="round" d="M405,343 L405,345 L408.5,345.3 L408.5,343.2"/>
<path fill="#fff" stroke="#111" stroke-width="1.1" stroke-linejoin="round" d="M346.5,180 L346.5,324 C350,327 362,334 375,339 C388,343 398,344.5 405,345 C412,345.5 418,345.7 422,345.75 L470,345.75 L470,180 Z"/>
<path fill="none" stroke="#111" stroke-width="1.8" d="M345.5,292 C341,298 339.5,303 339.75,307.5 C340,313 341.5,318 343.5,321 C344.5,322.3 345.5,323.2 346.5,324 C350,327 362,334 375,339 C388,343 398,344.5 405,345 C412,345.5 418,345.7 422,345.75"/>
<path fill="#fff" stroke="#111" stroke-width="0.9" d="M358.5,331 L360,327.5 L364.5,329.5 L363.5,334.5Z M405,343.5 L405.5,340.5 L409,341 L409,344.5Z"/>
<path fill="#fff" stroke="#111" stroke-width="1.1" stroke-linejoin="round" d="M417,232 C440,222 515,220 535,228 L537.6,388 L540.8,392 L540.8,436 C538,456 510,465 483,465 C455,465 430,456 422.4,436 L422.4,392 L424,386 L419,265 Z"/>
<path fill="none" stroke="#111" stroke-width="0.9" d="M418,230.0 C428,242.0 455,249.0 488,249.5 C510,249.0 528,238.0 534,224.0"/>
<path fill="none" stroke="#111" stroke-width="0.9" d="M418,231.5 C428,244.5 455,251.5 488,252.0 C510,251.5 528,240.0 534,225.2"/>
<path fill="none" stroke="#111" stroke-width="0.9" d="M418,233.6 C428,248.0 455,255.0 488,255.5 C510,255.0 528,242.8 534,227.0"/>
<path fill="none" stroke="#111" stroke-width="0.9" d="M419,263.5 C430,273.3 455,279.3 477,279.3 C505,279.3 525,271.3 535.5,265.5"/>
<path fill="none" stroke="#111" stroke-width="0.9" d="M419,266.1 C430,278.5 455,284.5 477,284.5 C505,284.5 525,276.5 535.5,268.1"/>
<path fill="none" stroke="#111" stroke-width="0.9" d="M419,268.4 C430,283.0 455,289.0 477,289.0 C505,289.0 525,281.0 535.5,270.4"/>
<path fill="none" stroke="#111" stroke-width="0.9" d="M466,295 C462,296 459.5,298 459.5,302 L459.5,402 C459.5,407 462,410.5 467,410.5 C490,408 515,403 536,394.4"/>
<path fill="none" stroke="#111" stroke-width="0.9" d="M466,295 C490,296 515,298 531.5,301"/>
<path fill="none" stroke="#111" stroke-width="0.9" d="M497,295 L515,295.5 L515,313 L497,313.5Z M499.5,298 L512.5,298.5 L512.5,310.5 L499.5,311Z"/>
<path fill="none" stroke="#111" stroke-width="0.9" d="M521,282 L531.5,281.5 L531.5,302 L521,304Z M523,285 L529.5,285 L529.5,299.5 L523,301Z"/>
<path fill="none" stroke="#111" stroke-width="0.9" d="M504,314 L530,310 L533,318 L533,370 L520,382 L505,384 L496,376 L495.5,322Z"/>
<path fill="none" stroke="#111" stroke-width="0.9" d="M506,317 L528,313.5 L530.5,320 L530.5,368 L519,379 L506,381 L498.5,374.5 L498,323Z"/>
<path fill="none" stroke="#111" stroke-width="0.9" d="M510.5,321 L527,318.5 L527,363 L510.5,366Z M512.5,324 L525,322 L525,360.5 L512.5,363Z"/>
<text x="0" y="0" font-family="Liberation Sans, sans-serif" font-weight="bold" font-size="15" fill="#111" stroke="#111" stroke-width="1.3" stroke-linejoin="round" transform="translate(508.5,400) skewY(-28) scale(0.62,1)">TTX</text>
<path fill="none" stroke="#111" stroke-width="0.9" d="M422.4,392 C430,404 450,412 480,412 C510,412 530,400 539.2,388"/>
<path fill="none" stroke="#111" stroke-width="0.9" d="M424,404 C435,417 455,423 480,423.2 C510,423 530,412 539,399"/>
<path fill="none" stroke="#111" stroke-width="0.9" d="M424,407 C435,420 455,426 480,426.4 C510,426 530,415 539,402"/>
<path fill="none" stroke="#222" stroke-width="0.7" d="M419.5,266 L424.5,386 M535.5,266 L537.6,386"/>
<path fill="#fff" stroke="#111" stroke-width="1.1" stroke-linejoin="round" d="M369,99 C364,100 356,106 350,113 C345,118 340,126 338.5,135 C337.5,145 337.5,155 338,165 C338.5,172 339.5,180 342.5,186 C346,192 350,195 354.5,198 C360,202 365,204 369.5,205.5 C376,207.5 381,208 386,208.5 C390,210 393,212 395,214.5 L425,234 L386,200 L393,155 L396.5,124 L369.5,112Z"/>
<path fill="none" stroke="#111" stroke-width="0.9" stroke-linejoin="round" stroke-linecap="round" d="M338.5,138 C339,146 341,152 346,160 C349,163 351,165 354,166"/>
<path fill="none" stroke="#111" stroke-width="0.9" stroke-linejoin="round" stroke-linecap="round" d="M338,151 C339,158 340,163 342,166 C345,171 350,176 360,183 C364,185 368,187 375,189 C380,190 384,191 386,191"/>
<path fill="none" stroke="#111" stroke-width="0.9" stroke-linejoin="round" stroke-linecap="round" d="M338,162 C341,168 345,172 350,175.5 C356,180 362,183.5 369.5,186 C376,188.5 381,190.5 386,192"/>
<path fill="none" stroke="#111" stroke-width="0.9" stroke-linejoin="round" stroke-linecap="round" d="M366,101 C365,104 365,108 368,114 C372,119 380,123 390,124 L396.5,124"/>
<path fill="none" stroke="#111" stroke-width="0.9" stroke-linejoin="round" stroke-linecap="round" d="M376,123 L354,166"/>
<path fill="#fff" stroke="#111" stroke-width="1.1" stroke-linejoin="round" d="M376,123 C382,126 387,131 391,139 C393,144 393.5,150 392,157 C391,160 389.5,162 388,163 C384,162 378,162 370,164 C364,166 360,167 354,166 L376,123Z"/>
<path fill="none" stroke="#111" stroke-width="1.5" stroke-linejoin="round" d="M354,166 C357,168 360,168 363,167 C370,164.5 378,162 388,163"/>
<path fill="none" stroke="#111" stroke-width="0.9" stroke-linejoin="round" stroke-linecap="round" d="M368,165 L368,187"/>
<path fill="none" stroke="#111" stroke-width="0.9" stroke-linejoin="round" stroke-linecap="round" d="M368,187 C372,185 377,184.5 382,186.5 C384,188 385,189 386,191"/>
<path fill="#fff" stroke="none" d="M393,155 L460.8,124.8 L471.6,125.4 L516,152.4 L528,170 L533,200 L534,224 C528,238 510,249 488,249.5 C455,249 440,244 430,236.5 L386,206 L386,196 C385.5,188 385.5,180 386,174 C387,168 389,164 393,155Z"/>
<path fill="none" stroke="#111" stroke-width="1.1" d="M516,152.4 C522,158 526,165 528,172 M522,203 C527,208 531,214 533,222 L534,226"/>
<path fill="none" stroke="#111" stroke-width="1.5" stroke-linejoin="round" d="M393,155 L460.8,124.8"/>
<path fill="none" stroke="#111" stroke-width="0.9" stroke-linejoin="round" stroke-linecap="round" d="M394,158 L462,128"/>
<path fill="none" stroke="#111" stroke-width="0.9" stroke-linejoin="round" stroke-linecap="round" d="M471.6,125.4 L516,152.4"/>
<path fill="none" stroke="#111" stroke-width="0.9" stroke-linejoin="round" stroke-linecap="round" d="M460.8,126 L504,152.4"/>
<path fill="none" stroke="#111" stroke-width="0.9" stroke-linejoin="round" stroke-linecap="round" d="M435.6,139.2 L475.2,164.4"/>
<path fill="none" stroke="#111" stroke-width="0.9" stroke-linejoin="round" stroke-linecap="round" d="M412,151 L450,176.4"/>
<path fill="none" stroke="#111" stroke-width="0.9" stroke-linejoin="round" stroke-linecap="round" d="M448.8,176.4 L504,154.8"/>
<path fill="#fff" stroke="none" d="M443.5,97 C445,100 446,103 447.6,105.6 C450,109 453,111 456,112.8 C460,116 463,119 465.6,121.2 C468,123 470,124.5 471.6,125.4 L460.8,124.8 L396.5,124 L396.5,100 Z"/>
<path fill="none" stroke="#111" stroke-width="1.1" d="M443.5,97 C445,100 446,103 447.6,105.6 C450,109 453,111 456,112.8 C460,116 463,119 465.6,121.2 C468,123 470,124.5 471.6,125.4"/>
<path fill="none" stroke="#111" stroke-width="0.9" stroke-linejoin="round" stroke-linecap="round" d="M448.8,108 C449.5,110 450,112 451.2,114 C454,117 456,119 459.6,121.2 C463,123.5 466,125 470.4,126"/>
<path fill="none" stroke="#111" stroke-width="0.9" stroke-linejoin="round" stroke-linecap="round" d="M396.5,124 L448.8,105.6"/>
<path fill="none" stroke="#111" stroke-width="0.9" stroke-linejoin="round" stroke-linecap="round" d="M390,135 L444,115"/>
<path fill="none" stroke="#111" stroke-width="0.9" stroke-linejoin="round" stroke-linecap="round" d="M393,155 C390,160 387,166 385.5,172 C385,180 385,188 386,196"/>
<path fill="none" stroke="#111" stroke-width="0.9" stroke-linejoin="round" stroke-linecap="round" d="M388,189 L427,215"/>
<path fill="none" stroke="#111" stroke-width="1.5" stroke-linejoin="round" d="M386,196 L430,229"/>
<path fill="none" stroke="#111" stroke-width="0.9" stroke-linejoin="round" stroke-linecap="round" d="M386,200 L430,232"/>
<path fill="none" stroke="#111" stroke-width="0.9" stroke-linejoin="round" stroke-linecap="round" d="M386,204 L429,234.5"/>
<text x="0" y="0" font-family="Liberation Sans, sans-serif" font-weight="bold" font-size="16.5" fill="#111" stroke="#111" stroke-width="1.5" stroke-linejoin="round" transform="translate(399.5,200.5) skewY(35) scale(0.6,1)">TTX</text>
<path fill="#fff" stroke="#111" stroke-width="1.1" stroke-linejoin="round" d="M369.7,110 L369.7,87 C370,62 385,41 405,40.5 C425,40 440,52 444,69 L444.5,98 C432,110 410,121 396.7,124.5 L396.5,100.5 C385,100 376,96 369.7,88Z"/>
<path fill="none" stroke="#111" stroke-width="0.9" stroke-linejoin="round" stroke-linecap="round" d="M369.7,88 C378,96 388,100 396.5,100.5"/>
<path fill="#fff" stroke="#111" stroke-width="1.1" stroke-linejoin="round" d="M396.7,124.5 C396,110 397,95 400,80 C405,66 415,58 425,57.5 C437,57.5 443,64 444,75 L444.5,98 C432,111 412,121 396.7,124.5Z"/>
<ellipse cx="421" cy="88" rx="21.5" ry="27.5" transform="rotate(22 421 88)" fill="none" stroke="#111" stroke-width="0.9"/>
<ellipse cx="421" cy="88" rx="19.2" ry="24.8" transform="rotate(22 421 88)" fill="none" stroke="#111" stroke-width="1.8"/>
<ellipse cx="421" cy="88" rx="17.6" ry="22.8" transform="rotate(22 421 88)" fill="none" stroke="#111" stroke-width="0.8"/>
<ellipse cx="421.5" cy="87.8" rx="8.3" ry="10.5" transform="rotate(22 421.5 87.8)" fill="none" stroke="#111" stroke-width="0.9" stroke-linejoin="round" stroke-linecap="round"/>
<ellipse cx="421.5" cy="87.8" rx="6.9" ry="9.1" transform="rotate(22 421.5 87.8)" fill="none" stroke="#222" stroke-width="0.7"/>
<ellipse cx="505" cy="183.5" rx="24.5" ry="30.5" transform="rotate(20 505 183.5)" fill="#fff" stroke="#111" stroke-width="1.1" stroke-linejoin="round"/>
<ellipse cx="505.5" cy="184" rx="22.5" ry="28.3" transform="rotate(20 505.5 184)" fill="none" stroke="#111" stroke-width="0.9" stroke-linejoin="round" stroke-linecap="round"/>
<ellipse cx="510" cy="188" rx="14" ry="16.5" transform="rotate(20 510 188)" fill="none" stroke="#111" stroke-width="0.9" stroke-linejoin="round" stroke-linecap="round"/>
<ellipse cx="513" cy="189.5" rx="11" ry="12.5" transform="rotate(20 513 189.5)" fill="#fff" stroke="#111" stroke-width="1.8"/>
<ellipse cx="513.5" cy="190" rx="8" ry="9" transform="rotate(20 513.5 190)" fill="none" stroke="#111" stroke-width="0.9" stroke-linejoin="round" stroke-linecap="round"/>
<ellipse cx="514" cy="190" rx="5" ry="5.8" transform="rotate(20 514 190)" fill="none" stroke="#222" stroke-width="0.7"/>
<circle cx="514" cy="190.5" r="2.4" fill="none" stroke="#111" stroke-width="1"/>
<text font-family="Liberation Sans, sans-serif" font-weight="bold" font-size="6.6" fill="#111" stroke="#111" stroke-width="0.3" transform="translate(515.5,160.5) rotate(63) scale(0.95,1)">LOW</text>
<text font-family="Liberation Sans, sans-serif" font-weight="bold" font-size="6.6" fill="#111" stroke="#111" stroke-width="0.3" transform="translate(492.5,192.5) rotate(-80) scale(0.95,1)">LOW</text>
<text font-family="Liberation Sans, sans-serif" font-weight="bold" font-size="6.6" fill="#111" stroke="#111" stroke-width="0.3" transform="translate(519.5,203.5) rotate(160) scale(0.95,1)">LOW</text>
<circle cx="501.5" cy="162" r="1.7" fill="#777" stroke="#111" stroke-width="0.6"/>
<circle cx="489.5" cy="204.5" r="1.7" fill="#777" stroke="#111" stroke-width="0.6"/>
<path transform="translate(510.5,162.5) rotate(15)" d="M-2.5,-0.8 L0.5,-0.8 L0.5,-1.8 L2.6,0 L0.5,1.8 L0.5,0.8 L-2.5,0.8Z" fill="#fff" stroke="#111" stroke-width="0.7"/>
<path transform="translate(497.5,170) rotate(200)" d="M-2.5,-0.8 L0.5,-0.8 L0.5,-1.8 L2.6,0 L0.5,1.8 L0.5,0.8 L-2.5,0.8Z" fill="#fff" stroke="#111" stroke-width="0.7"/>
<path transform="translate(488.5,196.5) rotate(-100)" d="M-2.5,-0.8 L0.5,-0.8 L0.5,-1.8 L2.6,0 L0.5,1.8 L0.5,0.8 L-2.5,0.8Z" fill="#fff" stroke="#111" stroke-width="0.7"/>
<path transform="translate(496.5,207) rotate(160)" d="M-2.5,-0.8 L0.5,-0.8 L0.5,-1.8 L2.6,0 L0.5,1.8 L0.5,0.8 L-2.5,0.8Z" fill="#fff" stroke="#111" stroke-width="0.7"/>
<path transform="translate(503,210.5) rotate(10)" d="M-2.5,-0.8 L0.5,-0.8 L0.5,-1.8 L2.6,0 L0.5,1.8 L0.5,0.8 L-2.5,0.8Z" fill="#fff" stroke="#111" stroke-width="0.7"/>
<ellipse cx="455" cy="205.5" rx="25.5" ry="29" transform="rotate(22 455 205.5)" fill="#fff" stroke="#111" stroke-width="1.1" stroke-linejoin="round"/>
<ellipse cx="456" cy="206.5" rx="23.5" ry="27" transform="rotate(22 456 206.5)" fill="none" stroke="#111" stroke-width="0.9" stroke-linejoin="round" stroke-linecap="round"/>
<ellipse cx="457.5" cy="207.5" rx="20" ry="23.5" transform="rotate(22 457.5 207.5)" fill="none" stroke="#222" stroke-width="0.7"/>
<path fill="#fff" stroke="#111" stroke-width="1.1" stroke-linejoin="round" d="M444,196 L456,188 L468,190.5 L472,203 L468,220 L456,226 L444,221 L441.5,208Z"/>
<path fill="none" stroke="#111" stroke-width="0.9" stroke-linejoin="round" stroke-linecap="round" d="M447,193 L460,197 L462,188 M441.5,208 L447,214"/>
<ellipse cx="463" cy="211.5" rx="13.5" ry="15" transform="rotate(22 463 211.5)" fill="#fff" stroke="#111" stroke-width="2"/>
<ellipse cx="463.5" cy="212" rx="11" ry="12.5" transform="rotate(22 463.5 212)" fill="none" stroke="#111" stroke-width="1.2" stroke-dasharray="2,1.5"/>
<ellipse cx="464" cy="212.5" rx="8" ry="9.5" transform="rotate(22 464 212.5)" fill="none" stroke="#111" stroke-width="0.9" stroke-linejoin="round" stroke-linecap="round"/>
<ellipse cx="464.5" cy="213" rx="6.2" ry="7.5" transform="rotate(22 464.5 213)" fill="none" stroke="#222" stroke-width="0.7"/>
<g id="ohlins">
<rect x="16.5" y="181.2" width="309.5" height="116" rx="12" fill="#1d63b8"/>
<rect x="23" y="187.8" width="296.2" height="103.7" rx="8" fill="none" stroke="#f2ad2b" stroke-width="4"/>
<path fill="#f4ae22" stroke="#d9cfa6" stroke-width="3.0" stroke-linejoin="round" fill-rule="evenodd" d="M53.0,213.3 L78.8,213.3 L86.3,220.8 L86.3,267.9 L78.8,275.4 L53.0,275.4 L45.5,267.9 L45.5,220.8Z M58.8,225.5 L73.2,225.5 L73.2,262.5 L58.8,262.5Z"/>
<rect fill="#f4ae22" stroke="#d9cfa6" stroke-width="3.0" stroke-linejoin="round" x="49.2" y="196.3" width="13" height="10.6"/>
<rect fill="#f4ae22" stroke="#d9cfa6" stroke-width="3.0" stroke-linejoin="round" x="69.6" y="196.3" width="13" height="10.6"/>
<path fill="#f4ae22" stroke="#d9cfa6" stroke-width="3.0" stroke-linejoin="round" d="M95.2,212.8 L108.3,212.8 L108.3,232.8 L122.2,232.8 L122.2,212.8 L136,212.8 L136,274.8 L122.2,274.8 L122.2,249.8 L108.3,249.8 L108.3,274.8 L95.2,274.8Z"/>
<path fill="#f4ae22" stroke="#d9cfa6" stroke-width="3.0" stroke-linejoin="round" d="M144,212.8 L158.3,212.8 L158.3,261.2 L174.8,261.2 L174.8,274.8 L144,274.8Z"/>
<rect fill="#f4ae22" stroke="#d9cfa6" stroke-width="3.0" stroke-linejoin="round" x="182.8" y="212.8" width="14.4" height="62"/>
<path fill="#f4ae22" stroke="#d9cfa6" stroke-width="3.0" stroke-linejoin="round" d="M205.2,212.8 L218.3,212.8 L235.2,249.5 L235.2,212.8 L248.5,212.8 L248.5,274.8 L235.7,274.8 L218.3,238.5 L218.3,274.8 L205.2,274.8Z"/>
<path fill="#f4ae22" stroke="#d9cfa6" stroke-width="3.0" stroke-linejoin="round" d="M266.8,212.8 L290.8,212.8 L299.8,221.8 L299.8,231.2 L285.6,231.2 L285.6,226.3 L272.6,226.3 L272.6,236.2 L293.2,236.2 L299.8,242.8 L299.8,265.8 L290.8,274.8 L266.8,274.8 L257.8,265.8 L257.8,256 L271.9,256 L271.9,261.5 L285.6,261.5 L285.6,250.8 L264.4,250.8 L257.8,244.2 L257.8,221.8Z"/>
<path fill="#f4ae22" stroke="#55553f" stroke-width="1.2" stroke-linejoin="round" fill-rule="evenodd" d="M53.0,213.3 L78.8,213.3 L86.3,220.8 L86.3,267.9 L78.8,275.4 L53.0,275.4 L45.5,267.9 L45.5,220.8Z M58.8,225.5 L73.2,225.5 L73.2,262.5 L58.8,262.5Z"/>
<rect fill="#f4ae22" stroke="#55553f" stroke-width="1.2" stroke-linejoin="round" x="49.2" y="196.3" width="13" height="10.6"/>
<rect fill="#f4ae22" stroke="#55553f" stroke-width="1.2" stroke-linejoin="round" x="69.6" y="196.3" width="13" height="10.6"/>
<path fill="#f4ae22" stroke="#55553f" stroke-width="1.2" stroke-linejoin="round" d="M95.2,212.8 L108.3,212.8 L108.3,232.8 L122.2,232.8 L122.2,212.8 L136,212.8 L136,274.8 L122.2,274.8 L122.2,249.8 L108.3,249.8 L108.3,274.8 L95.2,274.8Z"/>
<path fill="#f4ae22" stroke="#55553f" stroke-width="1.2" stroke-linejoin="round" d="M144,212.8 L158.3,212.8 L158.3,261.2 L174.8,261.2 L174.8,274.8 L144,274.8Z"/>
<rect fill="#f4ae22" stroke="#55553f" stroke-width="1.2" stroke-linejoin="round" x="182.8" y="212.8" width="14.4" height="62"/>
<path fill="#f4ae22" stroke="#55553f" stroke-width="1.2" stroke-linejoin="round" d="M205.2,212.8 L218.3,212.8 L235.2,249.5 L235.2,212.8 L248.5,212.8 L248.5,274.8 L235.7,274.8 L218.3,238.5 L218.3,274.8 L205.2,274.8Z"/>
<path fill="#f4ae22" stroke="#55553f" stroke-width="1.2" stroke-linejoin="round" d="M266.8,212.8 L290.8,212.8 L299.8,221.8 L299.8,231.2 L285.6,231.2 L285.6,226.3 L272.6,226.3 L272.6,236.2 L293.2,236.2 L299.8,242.8 L299.8,265.8 L290.8,274.8 L266.8,274.8 L257.8,265.8 L257.8,256 L271.9,256 L271.9,261.5 L285.6,261.5 L285.6,250.8 L264.4,250.8 L257.8,244.2 L257.8,221.8Z"/>
<circle cx="302" cy="209.6" r="5.6" fill="none" stroke="#cdbf95" stroke-width="1.1"/>
<text x="299.6" y="212.4" font-family="Liberation Sans, sans-serif" font-size="7.5" fill="#d8c48a" font-weight="bold">R</text>
</g>
<text x="18.5" y="314.5" font-family="Liberation Sans, sans-serif" font-size="14.2" fill="#e9ab33" stroke="#e9ab33" stroke-width="0.45" textLength="304" lengthAdjust="spacingAndGlyphs" xml:space="preserve">ADVANCED  SUSPENSION  TECHNOLOGY</text>
<style>.nss path{vector-effect:non-scaling-stroke}</style>
<g transform="translate(-3,4.5) translate(596,15) scale(0.40323,0.39216) translate(-5.4,-449)"><g class="nss" fill="#0d0d0d" stroke="#0d0d0d" stroke-width="5.4" stroke-linejoin="round" fill-rule="evenodd"><path d="M5.40,467.60 L19.80,449.60 L84.00,449.00 L90.00,450.50 L93.00,455.00 L93.00,460.40 L70.80,508.40 L112.00,470.00 L120.00,463.00 L128.00,460.00 L144.00,460.00 L150.00,464.00 L150.40,472.00 L131.20,512.00 L152.00,492.80 L169.60,481.60 L182.40,477.60 L195.20,478.40 L200.00,484.80 L198.40,492.80 L174.00,543.00 L170.00,550.00 L150.00,551.00 L144.00,549.00 L163.20,507.20 L115.00,546.00 L110.00,551.00 L92.00,551.00 L88.00,547.00 L111.60,490.40 L52.80,544.40 L47.00,550.50 L19.80,550.40 L56.40,467.60Z"/><g transform="matrix(1,0,-0.45,1,245.25,0)"><path d="M214.50,499.50 L284.00,499.50 A20.00,20.00 0 0 1 304.00,519.50 L304.00,529.50 L242.25,529.50 A2.25,2.25 0 0 0 242.25,534.00 L304.00,534.00 L304.00,525.50 A20.00,20.00 0 0 1 284.00,545.50 L214.50,545.50 A22.50,22.50 0 0 1 192.00,523.00 L192.00,522.00 A22.50,22.50 0 0 1 214.50,499.50Z M236.50,511.00 L257.50,511.00 A4.50,4.50 0 0 1 262.00,515.50 L262.00,515.50 A4.50,4.50 0 0 1 257.50,520.00 L236.50,520.00 A4.50,4.50 0 0 1 232.00,515.50 L232.00,515.50 A4.50,4.50 0 0 1 236.50,511.00Z"/><path d="M317.50,499.50 L384.00,499.50 A20.00,20.00 0 0 1 404.00,519.50 L404.00,515.00 L366.50,515.00 A4.50,4.50 0 0 0 366.50,524.00 L404.00,524.00 L404.00,525.50 A20.00,20.00 0 0 1 384.00,545.50 L317.50,545.50 A22.50,22.50 0 0 1 295.00,523.00 L295.00,522.00 A22.50,22.50 0 0 1 317.50,499.50Z"/><path d="M435.50,499.50 L520.00,499.50 A5.00,5.00 0 0 1 525.00,504.50 L525.00,540.50 A5.00,5.00 0 0 1 520.00,545.50 L435.50,545.50 A22.50,22.50 0 0 1 413.00,523.00 L413.00,522.00 A22.50,22.50 0 0 1 435.50,499.50Z M470.00,512.00 L480.00,512.00 A7.00,7.00 0 0 1 487.00,519.00 L487.00,523.50 A7.00,7.00 0 0 1 480.00,530.50 L470.00,530.50 A7.00,7.00 0 0 1 463.00,523.50 L463.00,519.00 A7.00,7.00 0 0 1 470.00,512.00Z"/><path d="M554.50,499.50 L609.00,499.50 A5.00,5.00 0 0 1 614.00,504.50 L614.00,540.50 A5.00,5.00 0 0 1 609.00,545.50 L554.50,545.50 A22.50,22.50 0 0 1 532.00,523.00 L532.00,522.00 A22.50,22.50 0 0 1 554.50,499.50Z M585.00,512.50 L594.00,512.50 A7.00,7.00 0 0 1 601.00,519.50 L601.00,524.00 A7.00,7.00 0 0 1 594.00,531.00 L585.00,531.00 A7.00,7.00 0 0 1 578.00,524.00 L578.00,519.50 A7.00,7.00 0 0 1 585.00,512.50Z"/><path d="M611.00,463.40 L637.00,463.40 A5.00,5.00 0 0 1 642.00,468.40 L642.00,540.50 A5.00,5.00 0 0 1 637.00,545.50 L611.00,545.50 A5.00,5.00 0 0 1 606.00,540.50 L606.00,468.40 A5.00,5.00 0 0 1 611.00,463.40Z"/><path d="M685.50,499.50 L756.00,499.50 A5.00,5.00 0 0 1 761.00,504.50 L761.00,540.50 A5.00,5.00 0 0 1 756.00,545.50 L685.50,545.50 A22.50,22.50 0 0 1 663.00,523.00 L663.00,522.00 A22.50,22.50 0 0 1 685.50,499.50Z M711.00,512.50 L721.00,512.50 A7.00,7.00 0 0 1 728.00,519.50 L728.00,524.00 A7.00,7.00 0 0 1 721.00,531.00 L711.00,531.00 A7.00,7.00 0 0 1 704.00,524.00 L704.00,519.50 A7.00,7.00 0 0 1 711.00,512.50Z"/><path d="M810.00,471.50 L826.00,471.50 A5.00,5.00 0 0 1 831.00,476.50 L831.00,540.50 A5.00,5.00 0 0 1 826.00,545.50 L810.00,545.50 A5.00,5.00 0 0 1 805.00,540.50 L805.00,476.50 A5.00,5.00 0 0 1 810.00,471.50Z"/><path d="M778.00,499.50 L847.00,499.50 A4.00,4.00 0 0 1 851.00,503.50 L851.00,504.00 A4.00,4.00 0 0 1 847.00,508.00 L778.00,508.00 A3.00,3.00 0 0 1 775.00,505.00 L775.00,502.50 A3.00,3.00 0 0 1 778.00,499.50Z"/><path d="M873.50,499.50 L953.00,499.50 A5.00,5.00 0 0 1 958.00,504.50 L958.00,540.50 A5.00,5.00 0 0 1 953.00,545.50 L873.50,545.50 A22.50,22.50 0 0 1 851.00,523.00 L851.00,522.00 A22.50,22.50 0 0 1 873.50,499.50Z M901.00,512.50 L912.00,512.50 A7.00,7.00 0 0 1 919.00,519.50 L919.00,524.00 A7.00,7.00 0 0 1 912.00,531.00 L901.00,531.00 A7.00,7.00 0 0 1 894.00,524.00 L894.00,519.50 A7.00,7.00 0 0 1 901.00,512.50Z"/></g></g></g>
<g transform="translate(596,15) scale(0.40323,0.39216) translate(-5.4,-449)"><g class="nss" fill="#0d0d0d" stroke="#0d0d0d" stroke-width="5.4" stroke-linejoin="round" fill-rule="evenodd"><path d="M5.40,467.60 L19.80,449.60 L84.00,449.00 L90.00,450.50 L93.00,455.00 L93.00,460.40 L70.80,508.40 L112.00,470.00 L120.00,463.00 L128.00,460.00 L144.00,460.00 L150.00,464.00 L150.40,472.00 L131.20,512.00 L152.00,492.80 L169.60,481.60 L182.40,477.60 L195.20,478.40 L200.00,484.80 L198.40,492.80 L174.00,543.00 L170.00,550.00 L150.00,551.00 L144.00,549.00 L163.20,507.20 L115.00,546.00 L110.00,551.00 L92.00,551.00 L88.00,547.00 L111.60,490.40 L52.80,544.40 L47.00,550.50 L19.80,550.40 L56.40,467.60Z"/><g transform="matrix(1,0,-0.45,1,245.25,0)"><path d="M214.50,499.50 L284.00,499.50 A20.00,20.00 0 0 1 304.00,519.50 L304.00,529.50 L242.25,529.50 A2.25,2.25 0 0 0 242.25,534.00 L304.00,534.00 L304.00,525.50 A20.00,20.00 0 0 1 284.00,545.50 L214.50,545.50 A22.50,22.50 0 0 1 192.00,523.00 L192.00,522.00 A22.50,22.50 0 0 1 214.50,499.50Z M236.50,511.00 L257.50,511.00 A4.50,4.50 0 0 1 262.00,515.50 L262.00,515.50 A4.50,4.50 0 0 1 257.50,520.00 L236.50,520.00 A4.50,4.50 0 0 1 232.00,515.50 L232.00,515.50 A4.50,4.50 0 0 1 236.50,511.00Z"/><path d="M317.50,499.50 L384.00,499.50 A20.00,20.00 0 0 1 404.00,519.50 L404.00,515.00 L366.50,515.00 A4.50,4.50 0 0 0 366.50,524.00 L404.00,524.00 L404.00,525.50 A20.00,20.00 0 0 1 384.00,545.50 L317.50,545.50 A22.50,22.50 0 0 1 295.00,523.00 L295.00,522.00 A22.50,22.50 0 0 1 317.50,499.50Z"/><path d="M435.50,499.50 L520.00,499.50 A5.00,5.00 0 0 1 525.00,504.50 L525.00,540.50 A5.00,5.00 0 0 1 520.00,545.50 L435.50,545.50 A22.50,22.50 0 0 1 413.00,523.00 L413.00,522.00 A22.50,22.50 0 0 1 435.50,499.50Z M470.00,512.00 L480.00,512.00 A7.00,7.00 0 0 1 487.00,519.00 L487.00,523.50 A7.00,7.00 0 0 1 480.00,530.50 L470.00,530.50 A7.00,7.00 0 0 1 463.00,523.50 L463.00,519.00 A7.00,7.00 0 0 1 470.00,512.00Z"/><path d="M554.50,499.50 L609.00,499.50 A5.00,5.00 0 0 1 614.00,504.50 L614.00,540.50 A5.00,5.00 0 0 1 609.00,545.50 L554.50,545.50 A22.50,22.50 0 0 1 532.00,523.00 L532.00,522.00 A22.50,22.50 0 0 1 554.50,499.50Z M585.00,512.50 L594.00,512.50 A7.00,7.00 0 0 1 601.00,519.50 L601.00,524.00 A7.00,7.00 0 0 1 594.00,531.00 L585.00,531.00 A7.00,7.00 0 0 1 578.00,524.00 L578.00,519.50 A7.00,7.00 0 0 1 585.00,512.50Z"/><path d="M611.00,463.40 L637.00,463.40 A5.00,5.00 0 0 1 642.00,468.40 L642.00,540.50 A5.00,5.00 0 0 1 637.00,545.50 L611.00,545.50 A5.00,5.00 0 0 1 606.00,540.50 L606.00,468.40 A5.00,5.00 0 0 1 611.00,463.40Z"/><path d="M685.50,499.50 L756.00,499.50 A5.00,5.00 0 0 1 761.00,504.50 L761.00,540.50 A5.00,5.00 0 0 1 756.00,545.50 L685.50,545.50 A22.50,22.50 0 0 1 663.00,523.00 L663.00,522.00 A22.50,22.50 0 0 1 685.50,499.50Z M711.00,512.50 L721.00,512.50 A7.00,7.00 0 0 1 728.00,519.50 L728.00,524.00 A7.00,7.00 0 0 1 721.00,531.00 L711.00,531.00 A7.00,7.00 0 0 1 704.00,524.00 L704.00,519.50 A7.00,7.00 0 0 1 711.00,512.50Z"/><path d="M810.00,471.50 L826.00,471.50 A5.00,5.00 0 0 1 831.00,476.50 L831.00,540.50 A5.00,5.00 0 0 1 826.00,545.50 L810.00,545.50 A5.00,5.00 0 0 1 805.00,540.50 L805.00,476.50 A5.00,5.00 0 0 1 810.00,471.50Z"/><path d="M778.00,499.50 L847.00,499.50 A4.00,4.00 0 0 1 851.00,503.50 L851.00,504.00 A4.00,4.00 0 0 1 847.00,508.00 L778.00,508.00 A3.00,3.00 0 0 1 775.00,505.00 L775.00,502.50 A3.00,3.00 0 0 1 778.00,499.50Z"/><path d="M873.50,499.50 L953.00,499.50 A5.00,5.00 0 0 1 958.00,504.50 L958.00,540.50 A5.00,5.00 0 0 1 953.00,545.50 L873.50,545.50 A22.50,22.50 0 0 1 851.00,523.00 L851.00,522.00 A22.50,22.50 0 0 1 873.50,499.50Z M901.00,512.50 L912.00,512.50 A7.00,7.00 0 0 1 919.00,519.50 L919.00,524.00 A7.00,7.00 0 0 1 912.00,531.00 L901.00,531.00 A7.00,7.00 0 0 1 894.00,524.00 L894.00,519.50 A7.00,7.00 0 0 1 901.00,512.50Z"/></g></g></g>
<g transform="translate(596,15) scale(0.40323,0.39216) translate(-5.4,-449)"><g class="nss" fill="#fff" stroke="#fff" stroke-width="2.2" stroke-linejoin="round" fill-rule="evenodd"><path d="M5.40,467.60 L19.80,449.60 L84.00,449.00 L90.00,450.50 L93.00,455.00 L93.00,460.40 L70.80,508.40 L112.00,470.00 L120.00,463.00 L128.00,460.00 L144.00,460.00 L150.00,464.00 L150.40,472.00 L131.20,512.00 L152.00,492.80 L169.60,481.60 L182.40,477.60 L195.20,478.40 L200.00,484.80 L198.40,492.80 L174.00,543.00 L170.00,550.00 L150.00,551.00 L144.00,549.00 L163.20,507.20 L115.00,546.00 L110.00,551.00 L92.00,551.00 L88.00,547.00 L111.60,490.40 L52.80,544.40 L47.00,550.50 L19.80,550.40 L56.40,467.60Z"/><g transform="matrix(1,0,-0.45,1,245.25,0)"><path d="M214.50,499.50 L284.00,499.50 A20.00,20.00 0 0 1 304.00,519.50 L304.00,529.50 L242.25,529.50 A2.25,2.25 0 0 0 242.25,534.00 L304.00,534.00 L304.00,525.50 A20.00,20.00 0 0 1 284.00,545.50 L214.50,545.50 A22.50,22.50 0 0 1 192.00,523.00 L192.00,522.00 A22.50,22.50 0 0 1 214.50,499.50Z M236.50,511.00 L257.50,511.00 A4.50,4.50 0 0 1 262.00,515.50 L262.00,515.50 A4.50,4.50 0 0 1 257.50,520.00 L236.50,520.00 A4.50,4.50 0 0 1 232.00,515.50 L232.00,515.50 A4.50,4.50 0 0 1 236.50,511.00Z"/><path d="M317.50,499.50 L384.00,499.50 A20.00,20.00 0 0 1 404.00,519.50 L404.00,515.00 L366.50,515.00 A4.50,4.50 0 0 0 366.50,524.00 L404.00,524.00 L404.00,525.50 A20.00,20.00 0 0 1 384.00,545.50 L317.50,545.50 A22.50,22.50 0 0 1 295.00,523.00 L295.00,522.00 A22.50,22.50 0 0 1 317.50,499.50Z"/><path d="M435.50,499.50 L520.00,499.50 A5.00,5.00 0 0 1 525.00,504.50 L525.00,540.50 A5.00,5.00 0 0 1 520.00,545.50 L435.50,545.50 A22.50,22.50 0 0 1 413.00,523.00 L413.00,522.00 A22.50,22.50 0 0 1 435.50,499.50Z M470.00,512.00 L480.00,512.00 A7.00,7.00 0 0 1 487.00,519.00 L487.00,523.50 A7.00,7.00 0 0 1 480.00,530.50 L470.00,530.50 A7.00,7.00 0 0 1 463.00,523.50 L463.00,519.00 A7.00,7.00 0 0 1 470.00,512.00Z"/><path d="M554.50,499.50 L609.00,499.50 A5.00,5.00 0 0 1 614.00,504.50 L614.00,540.50 A5.00,5.00 0 0 1 609.00,545.50 L554.50,545.50 A22.50,22.50 0 0 1 532.00,523.00 L532.00,522.00 A22.50,22.50 0 0 1 554.50,499.50Z M585.00,512.50 L594.00,512.50 A7.00,7.00 0 0 1 601.00,519.50 L601.00,524.00 A7.00,7.00 0 0 1 594.00,531.00 L585.00,531.00 A7.00,7.00 0 0 1 578.00,524.00 L578.00,519.50 A7.00,7.00 0 0 1 585.00,512.50Z"/><path d="M611.00,463.40 L637.00,463.40 A5.00,5.00 0 0 1 642.00,468.40 L642.00,540.50 A5.00,5.00 0 0 1 637.00,545.50 L611.00,545.50 A5.00,5.00 0 0 1 606.00,540.50 L606.00,468.40 A5.00,5.00 0 0 1 611.00,463.40Z"/><path d="M685.50,499.50 L756.00,499.50 A5.00,5.00 0 0 1 761.00,504.50 L761.00,540.50 A5.00,5.00 0 0 1 756.00,545.50 L685.50,545.50 A22.50,22.50 0 0 1 663.00,523.00 L663.00,522.00 A22.50,22.50 0 0 1 685.50,499.50Z M711.00,512.50 L721.00,512.50 A7.00,7.00 0 0 1 728.00,519.50 L728.00,524.00 A7.00,7.00 0 0 1 721.00,531.00 L711.00,531.00 A7.00,7.00 0 0 1 704.00,524.00 L704.00,519.50 A7.00,7.00 0 0 1 711.00,512.50Z"/><path d="M810.00,471.50 L826.00,471.50 A5.00,5.00 0 0 1 831.00,476.50 L831.00,540.50 A5.00,5.00 0 0 1 826.00,545.50 L810.00,545.50 A5.00,5.00 0 0 1 805.00,540.50 L805.00,476.50 A5.00,5.00 0 0 1 810.00,471.50Z"/><path d="M778.00,499.50 L847.00,499.50 A4.00,4.00 0 0 1 851.00,503.50 L851.00,504.00 A4.00,4.00 0 0 1 847.00,508.00 L778.00,508.00 A3.00,3.00 0 0 1 775.00,505.00 L775.00,502.50 A3.00,3.00 0 0 1 778.00,499.50Z"/><path d="M873.50,499.50 L953.00,499.50 A5.00,5.00 0 0 1 958.00,504.50 L958.00,540.50 A5.00,5.00 0 0 1 953.00,545.50 L873.50,545.50 A22.50,22.50 0 0 1 851.00,523.00 L851.00,522.00 A22.50,22.50 0 0 1 873.50,499.50Z M901.00,512.50 L912.00,512.50 A7.00,7.00 0 0 1 919.00,519.50 L919.00,524.00 A7.00,7.00 0 0 1 912.00,531.00 L901.00,531.00 A7.00,7.00 0 0 1 894.00,524.00 L894.00,519.50 A7.00,7.00 0 0 1 901.00,512.50Z"/></g></g></g>
<g transform="translate(596,15) scale(0.40323,0.39216) translate(-5.4,-449)"><g fill="#e5171d" fill-rule="evenodd"><path d="M5.40,467.60 L19.80,449.60 L84.00,449.00 L90.00,450.50 L93.00,455.00 L93.00,460.40 L70.80,508.40 L112.00,470.00 L120.00,463.00 L128.00,460.00 L144.00,460.00 L150.00,464.00 L150.40,472.00 L131.20,512.00 L152.00,492.80 L169.60,481.60 L182.40,477.60 L195.20,478.40 L200.00,484.80 L198.40,492.80 L174.00,543.00 L170.00,550.00 L150.00,551.00 L144.00,549.00 L163.20,507.20 L115.00,546.00 L110.00,551.00 L92.00,551.00 L88.00,547.00 L111.60,490.40 L52.80,544.40 L47.00,550.50 L19.80,550.40 L56.40,467.60Z"/><g transform="matrix(1,0,-0.45,1,245.25,0)"><path d="M214.50,499.50 L284.00,499.50 A20.00,20.00 0 0 1 304.00,519.50 L304.00,529.50 L242.25,529.50 A2.25,2.25 0 0 0 242.25,534.00 L304.00,534.00 L304.00,525.50 A20.00,20.00 0 0 1 284.00,545.50 L214.50,545.50 A22.50,22.50 0 0 1 192.00,523.00 L192.00,522.00 A22.50,22.50 0 0 1 214.50,499.50Z M236.50,511.00 L257.50,511.00 A4.50,4.50 0 0 1 262.00,515.50 L262.00,515.50 A4.50,4.50 0 0 1 257.50,520.00 L236.50,520.00 A4.50,4.50 0 0 1 232.00,515.50 L232.00,515.50 A4.50,4.50 0 0 1 236.50,511.00Z"/><path d="M317.50,499.50 L384.00,499.50 A20.00,20.00 0 0 1 404.00,519.50 L404.00,515.00 L366.50,515.00 A4.50,4.50 0 0 0 366.50,524.00 L404.00,524.00 L404.00,525.50 A20.00,20.00 0 0 1 384.00,545.50 L317.50,545.50 A22.50,22.50 0 0 1 295.00,523.00 L295.00,522.00 A22.50,22.50 0 0 1 317.50,499.50Z"/><path d="M435.50,499.50 L520.00,499.50 A5.00,5.00 0 0 1 525.00,504.50 L525.00,540.50 A5.00,5.00 0 0 1 520.00,545.50 L435.50,545.50 A22.50,22.50 0 0 1 413.00,523.00 L413.00,522.00 A22.50,22.50 0 0 1 435.50,499.50Z M470.00,512.00 L480.00,512.00 A7.00,7.00 0 0 1 487.00,519.00 L487.00,523.50 A7.00,7.00 0 0 1 480.00,530.50 L470.00,530.50 A7.00,7.00 0 0 1 463.00,523.50 L463.00,519.00 A7.00,7.00 0 0 1 470.00,512.00Z"/><path d="M554.50,499.50 L609.00,499.50 A5.00,5.00 0 0 1 614.00,504.50 L614.00,540.50 A5.00,5.00 0 0 1 609.00,545.50 L554.50,545.50 A22.50,22.50 0 0 1 532.00,523.00 L532.00,522.00 A22.50,22.50 0 0 1 554.50,499.50Z M585.00,512.50 L594.00,512.50 A7.00,7.00 0 0 1 601.00,519.50 L601.00,524.00 A7.00,7.00 0 0 1 594.00,531.00 L585.00,531.00 A7.00,7.00 0 0 1 578.00,524.00 L578.00,519.50 A7.00,7.00 0 0 1 585.00,512.50Z"/><path d="M611.00,463.40 L637.00,463.40 A5.00,5.00 0 0 1 642.00,468.40 L642.00,540.50 A5.00,5.00 0 0 1 637.00,545.50 L611.00,545.50 A5.00,5.00 0 0 1 606.00,540.50 L606.00,468.40 A5.00,5.00 0 0 1 611.00,463.40Z"/><path d="M685.50,499.50 L756.00,499.50 A5.00,5.00 0 0 1 761.00,504.50 L761.00,540.50 A5.00,5.00 0 0 1 756.00,545.50 L685.50,545.50 A22.50,22.50 0 0 1 663.00,523.00 L663.00,522.00 A22.50,22.50 0 0 1 685.50,499.50Z M711.00,512.50 L721.00,512.50 A7.00,7.00 0 0 1 728.00,519.50 L728.00,524.00 A7.00,7.00 0 0 1 721.00,531.00 L711.00,531.00 A7.00,7.00 0 0 1 704.00,524.00 L704.00,519.50 A7.00,7.00 0 0 1 711.00,512.50Z"/><path d="M810.00,471.50 L826.00,471.50 A5.00,5.00 0 0 1 831.00,476.50 L831.00,540.50 A5.00,5.00 0 0 1 826.00,545.50 L810.00,545.50 A5.00,5.00 0 0 1 805.00,540.50 L805.00,476.50 A5.00,5.00 0 0 1 810.00,471.50Z"/><path d="M778.00,499.50 L847.00,499.50 A4.00,4.00 0 0 1 851.00,503.50 L851.00,504.00 A4.00,4.00 0 0 1 847.00,508.00 L778.00,508.00 A3.00,3.00 0 0 1 775.00,505.00 L775.00,502.50 A3.00,3.00 0 0 1 778.00,499.50Z"/><path d="M873.50,499.50 L953.00,499.50 A5.00,5.00 0 0 1 958.00,504.50 L958.00,540.50 A5.00,5.00 0 0 1 953.00,545.50 L873.50,545.50 A22.50,22.50 0 0 1 851.00,523.00 L851.00,522.00 A22.50,22.50 0 0 1 873.50,499.50Z M901.00,512.50 L912.00,512.50 A7.00,7.00 0 0 1 919.00,519.50 L919.00,524.00 A7.00,7.00 0 0 1 912.00,531.00 L901.00,531.00 A7.00,7.00 0 0 1 894.00,524.00 L894.00,519.50 A7.00,7.00 0 0 1 901.00,512.50Z"/></g></g></g>
<text x="680.2" y="30.8" font-family="Liberation Sans, sans-serif" font-weight="bold" font-style="italic" font-size="10" fill="#111" stroke="#111" stroke-width="2.2" stroke-linejoin="round" textLength="53" lengthAdjust="spacingAndGlyphs">www.</text>
<text x="947.2" y="30.8" font-family="Liberation Sans, sans-serif" font-weight="bold" font-style="italic" font-size="10" fill="#111" stroke="#111" stroke-width="2.2" stroke-linejoin="round" textLength="43" lengthAdjust="spacingAndGlyphs">.com</text>
<text x="681" y="29.8" font-family="Liberation Sans, sans-serif" font-weight="bold" font-style="italic" font-size="10" fill="#111" stroke="#111" stroke-width="1.6" stroke-linejoin="round" textLength="53" lengthAdjust="spacingAndGlyphs">www.</text>
<text x="948" y="29.8" font-family="Liberation Sans, sans-serif" font-weight="bold" font-style="italic" font-size="10" fill="#111" stroke="#111" stroke-width="1.6" stroke-linejoin="round" textLength="43" lengthAdjust="spacingAndGlyphs">.com</text>
<text x="681" y="29.8" font-family="Liberation Sans, sans-serif" font-weight="bold" font-style="italic" font-size="10" fill="#e01a1f"  textLength="53" lengthAdjust="spacingAndGlyphs">www.</text>
<text x="948" y="29.8" font-family="Liberation Sans, sans-serif" font-weight="bold" font-style="italic" font-size="10" fill="#e01a1f"  textLength="43" lengthAdjust="spacingAndGlyphs">.com</text>
<g stroke="#0a0a0a" stroke-width="1.6" fill="none">
<path d="M568,117.5 L521.5,176.5"/>
<path d="M464,203 L568,357"/>
<path d="M255,437 L255,356 L347,356"/>
<path d="M428,850.2 L565,850.2"/>
</g>
<circle cx="347.3" cy="355.8" r="3.3" fill="#0a0a0a"/>
<circle cx="122.4" cy="572.5" r="0.8" fill="#999"/>
<rect x="568.5" y="63.3" width="268.5" height="107.89999999999999" fill="#fff" stroke="#0a0a0a" stroke-width="2"/>
<rect x="568" y="298.3" width="267.79999999999995" height="108.0" fill="#fff" stroke="#0a0a0a" stroke-width="2"/>
<rect x="168.6" y="436.9" width="238.9" height="107.70000000000005" fill="#fff" stroke="#0a0a0a" stroke-width="2"/>
<rect x="565.1" y="820.4" width="271.69999999999993" height="59.89999999999998" fill="#fff" stroke="#0a0a0a" stroke-width="2"/>
<text x="579.00" y="104.5" font-family="Liberation Sans, sans-serif" font-style="italic" font-size="30.5" fill="#161616" stroke="#fff" stroke-width="0.55" textLength="158.50" lengthAdjust="spacingAndGlyphs">Low Speed</text>
<text x="578.20" y="149.1" font-family="Liberation Sans, sans-serif" font-style="italic" font-size="30.5" fill="#161616" stroke="#fff" stroke-width="0.55" textLength="115.40" lengthAdjust="spacingAndGlyphs">Adjuster</text>
<text x="579.00" y="336.1" font-family="Liberation Sans, sans-serif" font-style="italic" font-size="30.5" fill="#161616" stroke="#fff" stroke-width="0.55" textLength="162.40" lengthAdjust="spacingAndGlyphs">High Speed</text>
<text x="579.50" y="380.2" font-family="Liberation Sans, sans-serif" font-style="italic" font-size="30.5" fill="#161616" stroke="#fff" stroke-width="0.55" textLength="113.50" lengthAdjust="spacingAndGlyphs">Adjuster</text>
<text x="177.80" y="475.2" font-family="Liberation Sans, sans-serif" font-style="italic" font-size="30.5" fill="#161616" stroke="#fff" stroke-width="0.55" textLength="206.20" lengthAdjust="spacingAndGlyphs">Spring Preload</text>
<text x="183.10" y="518.1" font-family="Liberation Sans, sans-serif" font-style="italic" font-size="30.5" fill="#161616" stroke="#fff" stroke-width="0.55" textLength="112.90" lengthAdjust="spacingAndGlyphs">Adjuster</text>
<text x="577.90" y="855.6" font-family="Liberation Sans, sans-serif" font-style="italic" font-size="30.5" fill="#161616" stroke="#fff" stroke-width="0.55" textLength="248.20" lengthAdjust="spacingAndGlyphs">Rebound Adjuster</text>
<defs><mask id="wmmask" maskUnits="userSpaceOnUse" x="0" y="0" width="1000" height="1000">
<g fill="#fff" stroke="#fff" stroke-width="4.2" stroke-linejoin="round" fill-rule="evenodd"><path d="M5.40,467.60 L19.80,449.60 L84.00,449.00 L90.00,450.50 L93.00,455.00 L93.00,460.40 L70.80,508.40 L112.00,470.00 L120.00,463.00 L128.00,460.00 L144.00,460.00 L150.00,464.00 L150.40,472.00 L131.20,512.00 L152.00,492.80 L169.60,481.60 L182.40,477.60 L195.20,478.40 L200.00,484.80 L198.40,492.80 L174.00,543.00 L170.00,550.00 L150.00,551.00 L144.00,549.00 L163.20,507.20 L115.00,546.00 L110.00,551.00 L92.00,551.00 L88.00,547.00 L111.60,490.40 L52.80,544.40 L47.00,550.50 L19.80,550.40 L56.40,467.60Z"/><g transform="matrix(1,0,-0.45,1,245.25,0)"><path d="M214.50,499.50 L284.00,499.50 A20.00,20.00 0 0 1 304.00,519.50 L304.00,529.50 L242.25,529.50 A2.25,2.25 0 0 0 242.25,534.00 L304.00,534.00 L304.00,525.50 A20.00,20.00 0 0 1 284.00,545.50 L214.50,545.50 A22.50,22.50 0 0 1 192.00,523.00 L192.00,522.00 A22.50,22.50 0 0 1 214.50,499.50Z M236.50,511.00 L257.50,511.00 A4.50,4.50 0 0 1 262.00,515.50 L262.00,515.50 A4.50,4.50 0 0 1 257.50,520.00 L236.50,520.00 A4.50,4.50 0 0 1 232.00,515.50 L232.00,515.50 A4.50,4.50 0 0 1 236.50,511.00Z"/><path d="M317.50,499.50 L384.00,499.50 A20.00,20.00 0 0 1 404.00,519.50 L404.00,515.00 L366.50,515.00 A4.50,4.50 0 0 0 366.50,524.00 L404.00,524.00 L404.00,525.50 A20.00,20.00 0 0 1 384.00,545.50 L317.50,545.50 A22.50,22.50 0 0 1 295.00,523.00 L295.00,522.00 A22.50,22.50 0 0 1 317.50,499.50Z"/><path d="M435.50,499.50 L520.00,499.50 A5.00,5.00 0 0 1 525.00,504.50 L525.00,540.50 A5.00,5.00 0 0 1 520.00,545.50 L435.50,545.50 A22.50,22.50 0 0 1 413.00,523.00 L413.00,522.00 A22.50,22.50 0 0 1 435.50,499.50Z M470.00,512.00 L480.00,512.00 A7.00,7.00 0 0 1 487.00,519.00 L487.00,523.50 A7.00,7.00 0 0 1 480.00,530.50 L470.00,530.50 A7.00,7.00 0 0 1 463.00,523.50 L463.00,519.00 A7.00,7.00 0 0 1 470.00,512.00Z"/><path d="M554.50,499.50 L609.00,499.50 A5.00,5.00 0 0 1 614.00,504.50 L614.00,540.50 A5.00,5.00 0 0 1 609.00,545.50 L554.50,545.50 A22.50,22.50 0 0 1 532.00,523.00 L532.00,522.00 A22.50,22.50 0 0 1 554.50,499.50Z M585.00,512.50 L594.00,512.50 A7.00,7.00 0 0 1 601.00,519.50 L601.00,524.00 A7.00,7.00 0 0 1 594.00,531.00 L585.00,531.00 A7.00,7.00 0 0 1 578.00,524.00 L578.00,519.50 A7.00,7.00 0 0 1 585.00,512.50Z"/><path d="M611.00,463.40 L637.00,463.40 A5.00,5.00 0 0 1 642.00,468.40 L642.00,540.50 A5.00,5.00 0 0 1 637.00,545.50 L611.00,545.50 A5.00,5.00 0 0 1 606.00,540.50 L606.00,468.40 A5.00,5.00 0 0 1 611.00,463.40Z"/><path d="M685.50,499.50 L756.00,499.50 A5.00,5.00 0 0 1 761.00,504.50 L761.00,540.50 A5.00,5.00 0 0 1 756.00,545.50 L685.50,545.50 A22.50,22.50 0 0 1 663.00,523.00 L663.00,522.00 A22.50,22.50 0 0 1 685.50,499.50Z M711.00,512.50 L721.00,512.50 A7.00,7.00 0 0 1 728.00,519.50 L728.00,524.00 A7.00,7.00 0 0 1 721.00,531.00 L711.00,531.00 A7.00,7.00 0 0 1 704.00,524.00 L704.00,519.50 A7.00,7.00 0 0 1 711.00,512.50Z"/><path d="M810.00,471.50 L826.00,471.50 A5.00,5.00 0 0 1 831.00,476.50 L831.00,540.50 A5.00,5.00 0 0 1 826.00,545.50 L810.00,545.50 A5.00,5.00 0 0 1 805.00,540.50 L805.00,476.50 A5.00,5.00 0 0 1 810.00,471.50Z"/><path d="M778.00,499.50 L847.00,499.50 A4.00,4.00 0 0 1 851.00,503.50 L851.00,504.00 A4.00,4.00 0 0 1 847.00,508.00 L778.00,508.00 A3.00,3.00 0 0 1 775.00,505.00 L775.00,502.50 A3.00,3.00 0 0 1 778.00,499.50Z"/><path d="M873.50,499.50 L953.00,499.50 A5.00,5.00 0 0 1 958.00,504.50 L958.00,540.50 A5.00,5.00 0 0 1 953.00,545.50 L873.50,545.50 A22.50,22.50 0 0 1 851.00,523.00 L851.00,522.00 A22.50,22.50 0 0 1 873.50,499.50Z M901.00,512.50 L912.00,512.50 A7.00,7.00 0 0 1 919.00,519.50 L919.00,524.00 A7.00,7.00 0 0 1 912.00,531.00 L901.00,531.00 A7.00,7.00 0 0 1 894.00,524.00 L894.00,519.50 A7.00,7.00 0 0 1 901.00,512.50Z"/></g></g>
<g fill="#000" stroke="#000" stroke-width="0.1" fill-rule="evenodd"><path d="M5.40,467.60 L19.80,449.60 L84.00,449.00 L90.00,450.50 L93.00,455.00 L93.00,460.40 L70.80,508.40 L112.00,470.00 L120.00,463.00 L128.00,460.00 L144.00,460.00 L150.00,464.00 L150.40,472.00 L131.20,512.00 L152.00,492.80 L169.60,481.60 L182.40,477.60 L195.20,478.40 L200.00,484.80 L198.40,492.80 L174.00,543.00 L170.00,550.00 L150.00,551.00 L144.00,549.00 L163.20,507.20 L115.00,546.00 L110.00,551.00 L92.00,551.00 L88.00,547.00 L111.60,490.40 L52.80,544.40 L47.00,550.50 L19.80,550.40 L56.40,467.60Z"/><g transform="matrix(1,0,-0.45,1,245.25,0)"><path d="M214.50,499.50 L284.00,499.50 A20.00,20.00 0 0 1 304.00,519.50 L304.00,529.50 L242.25,529.50 A2.25,2.25 0 0 0 242.25,534.00 L304.00,534.00 L304.00,525.50 A20.00,20.00 0 0 1 284.00,545.50 L214.50,545.50 A22.50,22.50 0 0 1 192.00,523.00 L192.00,522.00 A22.50,22.50 0 0 1 214.50,499.50Z M236.50,511.00 L257.50,511.00 A4.50,4.50 0 0 1 262.00,515.50 L262.00,515.50 A4.50,4.50 0 0 1 257.50,520.00 L236.50,520.00 A4.50,4.50 0 0 1 232.00,515.50 L232.00,515.50 A4.50,4.50 0 0 1 236.50,511.00Z"/><path d="M317.50,499.50 L384.00,499.50 A20.00,20.00 0 0 1 404.00,519.50 L404.00,515.00 L366.50,515.00 A4.50,4.50 0 0 0 366.50,524.00 L404.00,524.00 L404.00,525.50 A20.00,20.00 0 0 1 384.00,545.50 L317.50,545.50 A22.50,22.50 0 0 1 295.00,523.00 L295.00,522.00 A22.50,22.50 0 0 1 317.50,499.50Z"/><path d="M435.50,499.50 L520.00,499.50 A5.00,5.00 0 0 1 525.00,504.50 L525.00,540.50 A5.00,5.00 0 0 1 520.00,545.50 L435.50,545.50 A22.50,22.50 0 0 1 413.00,523.00 L413.00,522.00 A22.50,22.50 0 0 1 435.50,499.50Z M470.00,512.00 L480.00,512.00 A7.00,7.00 0 0 1 487.00,519.00 L487.00,523.50 A7.00,7.00 0 0 1 480.00,530.50 L470.00,530.50 A7.00,7.00 0 0 1 463.00,523.50 L463.00,519.00 A7.00,7.00 0 0 1 470.00,512.00Z"/><path d="M554.50,499.50 L609.00,499.50 A5.00,5.00 0 0 1 614.00,504.50 L614.00,540.50 A5.00,5.00 0 0 1 609.00,545.50 L554.50,545.50 A22.50,22.50 0 0 1 532.00,523.00 L532.00,522.00 A22.50,22.50 0 0 1 554.50,499.50Z M585.00,512.50 L594.00,512.50 A7.00,7.00 0 0 1 601.00,519.50 L601.00,524.00 A7.00,7.00 0 0 1 594.00,531.00 L585.00,531.00 A7.00,7.00 0 0 1 578.00,524.00 L578.00,519.50 A7.00,7.00 0 0 1 585.00,512.50Z"/><path d="M611.00,463.40 L637.00,463.40 A5.00,5.00 0 0 1 642.00,468.40 L642.00,540.50 A5.00,5.00 0 0 1 637.00,545.50 L611.00,545.50 A5.00,5.00 0 0 1 606.00,540.50 L606.00,468.40 A5.00,5.00 0 0 1 611.00,463.40Z"/><path d="M685.50,499.50 L756.00,499.50 A5.00,5.00 0 0 1 761.00,504.50 L761.00,540.50 A5.00,5.00 0 0 1 756.00,545.50 L685.50,545.50 A22.50,22.50 0 0 1 663.00,523.00 L663.00,522.00 A22.50,22.50 0 0 1 685.50,499.50Z M711.00,512.50 L721.00,512.50 A7.00,7.00 0 0 1 728.00,519.50 L728.00,524.00 A7.00,7.00 0 0 1 721.00,531.00 L711.00,531.00 A7.00,7.00 0 0 1 704.00,524.00 L704.00,519.50 A7.00,7.00 0 0 1 711.00,512.50Z"/><path d="M810.00,471.50 L826.00,471.50 A5.00,5.00 0 0 1 831.00,476.50 L831.00,540.50 A5.00,5.00 0 0 1 826.00,545.50 L810.00,545.50 A5.00,5.00 0 0 1 805.00,540.50 L805.00,476.50 A5.00,5.00 0 0 1 810.00,471.50Z"/><path d="M778.00,499.50 L847.00,499.50 A4.00,4.00 0 0 1 851.00,503.50 L851.00,504.00 A4.00,4.00 0 0 1 847.00,508.00 L778.00,508.00 A3.00,3.00 0 0 1 775.00,505.00 L775.00,502.50 A3.00,3.00 0 0 1 778.00,499.50Z"/><path d="M873.50,499.50 L953.00,499.50 A5.00,5.00 0 0 1 958.00,504.50 L958.00,540.50 A5.00,5.00 0 0 1 953.00,545.50 L873.50,545.50 A22.50,22.50 0 0 1 851.00,523.00 L851.00,522.00 A22.50,22.50 0 0 1 873.50,499.50Z M901.00,512.50 L912.00,512.50 A7.00,7.00 0 0 1 919.00,519.50 L919.00,524.00 A7.00,7.00 0 0 1 912.00,531.00 L901.00,531.00 A7.00,7.00 0 0 1 894.00,524.00 L894.00,519.50 A7.00,7.00 0 0 1 901.00,512.50Z"/></g></g>
</mask></defs>
<rect x="0" y="444.5" width="1000" height="110" fill="#000" fill-opacity="0.012"/>
<rect x="0" y="380" width="1000" height="220" fill="#e0e0e0" mask="url(#wmmask)"/>
</svg></body></html>
